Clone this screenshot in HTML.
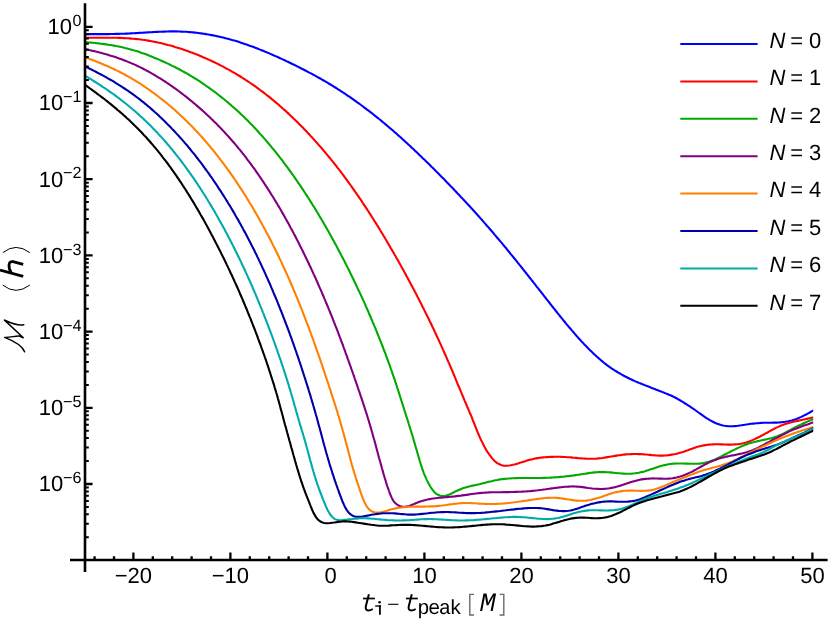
<!DOCTYPE html>
<html><head><meta charset="utf-8"><title>Mismatch vs start time</title>
<style>
html,body{margin:0;padding:0;background:#fff;}
svg{display:block;will-change:transform;}
text{font-family:"Liberation Sans",sans-serif;fill:#000;text-rendering:geometricPrecision;}
.tk{font-size:22px;}
.sp{font-size:16.2px;}
.lg{font-size:22px;}
.mono{font-family:"Liberation Mono",monospace;}
</style></head><body>
<svg width="830" height="620" viewBox="0 0 830 620">
<rect x="0" y="0" width="830" height="620" fill="#ffffff"/>
<defs><clipPath id="plotclip"><rect x="84" y="0" width="729.2" height="560"/></clipPath></defs>
<g fill="none" stroke-width="2.1" stroke-linejoin="round" stroke-linecap="butt" clip-path="url(#plotclip)">
<path stroke="#0000ff" d="M85.3 34.1 L87.0 34.1 L88.7 34.1 L90.4 34.1 L92.1 34.1 L93.7 34.1 L95.4 34.1 L97.1 34.1 L98.8 34.1 L100.5 34.1 L102.2 34.1 L103.9 34.1 L105.5 34.1 L107.2 34.1 L108.9 34.1 L110.6 34.0 L112.3 34.0 L114.0 34.0 L115.7 33.9 L117.4 33.9 L119.0 33.9 L120.7 33.8 L122.4 33.8 L124.1 33.7 L125.8 33.6 L127.5 33.6 L129.2 33.5 L130.8 33.4 L132.5 33.3 L134.2 33.2 L135.9 33.1 L137.6 33.0 L139.3 32.9 L141.0 32.8 L142.6 32.7 L144.3 32.6 L146.0 32.5 L147.7 32.4 L149.4 32.3 L151.1 32.2 L152.8 32.1 L154.4 32.0 L156.1 31.9 L157.8 31.9 L159.5 31.8 L161.2 31.7 L162.9 31.6 L164.6 31.6 L166.2 31.5 L167.9 31.5 L169.6 31.4 L171.3 31.4 L173.0 31.4 L174.7 31.4 L176.4 31.4 L178.0 31.5 L179.7 31.5 L181.4 31.6 L183.1 31.7 L184.8 31.7 L186.5 31.8 L188.1 32.0 L189.8 32.1 L191.5 32.2 L193.2 32.4 L194.9 32.6 L196.5 32.8 L198.2 33.0 L199.9 33.2 L201.5 33.4 L203.2 33.7 L204.9 33.9 L206.5 34.2 L208.2 34.5 L209.9 34.8 L211.5 35.1 L213.2 35.4 L214.8 35.7 L216.5 36.1 L218.1 36.4 L219.8 36.8 L221.4 37.2 L223.1 37.6 L224.7 38.0 L226.3 38.4 L228.0 38.8 L229.6 39.3 L231.2 39.7 L232.9 40.2 L234.5 40.6 L236.1 41.1 L237.7 41.6 L239.3 42.1 L240.9 42.7 L242.5 43.2 L244.1 43.7 L245.7 44.3 L247.3 44.8 L248.9 45.4 L250.5 46.0 L252.1 46.5 L253.7 47.1 L255.2 47.7 L256.8 48.3 L258.4 48.9 L260.0 49.6 L261.5 50.2 L263.1 50.8 L264.6 51.5 L266.2 52.1 L267.8 52.8 L269.3 53.4 L270.9 54.1 L272.4 54.8 L274.0 55.5 L275.5 56.1 L277.1 56.8 L278.6 57.5 L280.1 58.2 L281.7 58.9 L283.2 59.6 L284.7 60.3 L286.3 61.1 L287.8 61.8 L289.3 62.5 L290.8 63.2 L292.4 64.0 L293.9 64.7 L295.4 65.4 L296.9 66.2 L298.4 66.9 L299.9 67.7 L301.4 68.5 L302.9 69.2 L304.4 70.0 L305.9 70.8 L307.4 71.6 L308.9 72.4 L310.4 73.1 L311.9 73.9 L313.4 74.7 L314.9 75.6 L316.4 76.4 L317.8 77.2 L319.3 78.0 L320.8 78.8 L322.2 79.7 L323.7 80.5 L325.2 81.4 L326.6 82.2 L328.1 83.1 L329.5 84.0 L331.0 84.8 L332.4 85.7 L333.8 86.6 L335.3 87.5 L336.7 88.4 L338.1 89.3 L339.5 90.2 L340.9 91.1 L342.4 92.0 L343.8 93.0 L345.2 93.9 L346.6 94.8 L348.0 95.8 L349.4 96.7 L350.8 97.7 L352.1 98.6 L353.5 99.6 L354.9 100.6 L356.3 101.6 L357.6 102.6 L359.0 103.5 L360.4 104.5 L361.7 105.5 L363.1 106.5 L364.4 107.6 L365.8 108.6 L367.1 109.6 L368.5 110.6 L369.8 111.6 L371.1 112.7 L372.5 113.7 L373.8 114.8 L375.1 115.8 L376.4 116.9 L377.7 117.9 L379.1 119.0 L380.4 120.0 L381.7 121.1 L383.0 122.2 L384.3 123.3 L385.6 124.4 L386.9 125.4 L388.1 126.5 L389.4 127.6 L390.7 128.7 L392.0 129.8 L393.3 130.9 L394.5 132.0 L395.8 133.1 L397.1 134.3 L398.3 135.4 L399.6 136.5 L400.9 137.6 L402.1 138.8 L403.4 139.9 L404.6 141.0 L405.9 142.2 L407.1 143.3 L408.3 144.4 L409.6 145.6 L410.8 146.7 L412.0 147.9 L413.3 149.1 L414.5 150.2 L415.7 151.4 L417.0 152.5 L418.2 153.7 L419.4 154.9 L420.6 156.0 L421.8 157.2 L423.0 158.4 L424.3 159.6 L425.5 160.7 L426.7 161.9 L427.9 163.1 L429.1 164.3 L430.3 165.5 L431.5 166.7 L432.7 167.8 L433.9 169.0 L435.1 170.2 L436.3 171.4 L437.4 172.6 L438.6 173.8 L439.8 175.0 L441.0 176.2 L442.2 177.4 L443.4 178.6 L444.6 179.8 L445.7 181.0 L446.9 182.3 L448.1 183.5 L449.3 184.7 L450.4 185.9 L451.6 187.1 L452.8 188.3 L453.9 189.5 L455.1 190.8 L456.3 192.0 L457.4 193.2 L458.6 194.4 L459.8 195.7 L460.9 196.9 L462.1 198.1 L463.2 199.4 L464.4 200.6 L465.5 201.8 L466.7 203.1 L467.8 204.3 L469.0 205.5 L470.1 206.8 L471.2 208.0 L472.4 209.3 L473.5 210.5 L474.6 211.8 L475.8 213.0 L476.9 214.3 L478.0 215.5 L479.1 216.8 L480.3 218.1 L481.4 219.3 L482.5 220.6 L483.6 221.9 L484.7 223.1 L485.8 224.4 L486.9 225.7 L488.1 226.9 L489.2 228.2 L490.3 229.5 L491.4 230.8 L492.5 232.0 L493.6 233.3 L494.6 234.6 L495.7 235.9 L496.8 237.2 L497.9 238.5 L499.0 239.8 L500.1 241.1 L501.2 242.4 L502.3 243.6 L503.3 244.9 L504.4 246.2 L505.5 247.5 L506.6 248.8 L507.6 250.2 L508.7 251.5 L509.8 252.8 L510.8 254.1 L511.9 255.4 L513.0 256.7 L514.0 258.0 L515.1 259.3 L516.2 260.6 L517.2 261.9 L518.3 263.3 L519.3 264.6 L520.4 265.9 L521.4 267.2 L522.5 268.5 L523.5 269.9 L524.6 271.2 L525.6 272.5 L526.7 273.8 L527.7 275.1 L528.8 276.5 L529.8 277.8 L530.9 279.1 L531.9 280.5 L533.0 281.8 L534.0 283.1 L535.1 284.4 L536.1 285.8 L537.1 287.1 L538.2 288.4 L539.2 289.8 L540.3 291.1 L541.3 292.4 L542.3 293.7 L543.4 295.1 L544.4 296.4 L545.5 297.7 L546.5 299.1 L547.6 300.4 L548.6 301.7 L549.6 303.0 L550.7 304.4 L551.7 305.7 L552.8 307.0 L553.8 308.3 L554.9 309.7 L555.9 311.0 L557.0 312.3 L558.0 313.6 L559.1 314.9 L560.1 316.3 L561.2 317.6 L562.3 318.9 L563.3 320.2 L564.4 321.5 L565.5 322.8 L566.5 324.1 L567.6 325.4 L568.7 326.7 L569.8 328.0 L570.9 329.3 L572.0 330.6 L573.1 331.8 L574.2 333.1 L575.3 334.4 L576.4 335.7 L577.5 336.9 L578.6 338.2 L579.8 339.4 L580.9 340.7 L582.0 341.9 L583.2 343.1 L584.3 344.4 L585.5 345.6 L586.7 346.8 L587.9 348.0 L589.1 349.2 L590.3 350.4 L591.5 351.6 L592.7 352.7 L593.9 353.9 L595.1 355.0 L596.4 356.2 L597.6 357.3 L598.9 358.4 L600.2 359.6 L601.4 360.7 L602.7 361.7 L604.0 362.8 L605.4 363.9 L606.7 364.9 L608.0 365.9 L609.4 366.9 L610.8 367.9 L612.2 368.8 L613.6 369.7 L615.0 370.6 L616.5 371.5 L617.9 372.4 L619.4 373.2 L620.9 374.1 L622.3 374.9 L623.8 375.7 L625.3 376.5 L626.8 377.2 L628.3 378.0 L629.8 378.8 L631.4 379.5 L632.9 380.2 L634.4 380.9 L636.0 381.6 L637.5 382.2 L639.1 382.9 L640.6 383.5 L642.2 384.1 L643.8 384.8 L645.3 385.4 L646.9 386.0 L648.5 386.6 L650.1 387.2 L651.6 387.9 L653.2 388.5 L654.8 389.1 L656.3 389.7 L657.9 390.3 L659.5 390.9 L661.1 391.5 L662.6 392.1 L664.2 392.7 L665.8 393.4 L667.3 394.0 L668.9 394.7 L670.4 395.3 L672.0 396.0 L673.5 396.8 L675.0 397.5 L676.5 398.3 L678.0 399.1 L679.4 400.0 L680.9 400.8 L682.3 401.7 L683.8 402.6 L685.2 403.5 L686.7 404.4 L688.1 405.3 L689.5 406.2 L690.9 407.1 L692.3 408.1 L693.7 409.0 L695.1 410.0 L696.4 411.0 L697.8 412.0 L699.2 413.0 L700.5 413.9 L701.9 414.9 L703.3 415.9 L704.7 416.8 L706.1 417.8 L707.5 418.7 L709.0 419.6 L710.4 420.4 L711.9 421.3 L713.4 422.0 L714.9 422.8 L716.5 423.4 L718.1 424.0 L719.7 424.6 L721.3 425.1 L722.9 425.5 L724.6 425.8 L726.2 426.0 L727.9 426.2 L729.6 426.3 L731.3 426.3 L733.0 426.3 L734.6 426.1 L736.3 426.0 L738.0 425.8 L739.7 425.5 L741.4 425.3 L743.0 425.0 L744.7 424.8 L746.4 424.5 L748.1 424.3 L749.7 424.0 L751.4 423.8 L753.1 423.6 L754.8 423.5 L756.4 423.3 L758.1 423.2 L759.8 423.0 L761.5 422.9 L763.2 422.8 L764.9 422.8 L766.5 422.7 L768.2 422.7 L769.9 422.7 L771.6 422.7 L773.3 422.6 L775.0 422.6 L776.7 422.6 L778.4 422.5 L780.0 422.4 L781.7 422.2 L783.4 422.0 L785.1 421.8 L786.7 421.5 L788.4 421.2 L790.0 420.8 L791.7 420.4 L793.3 419.9 L794.9 419.4 L796.5 418.9 L798.1 418.3 L799.6 417.6 L801.2 416.9 L802.7 416.2 L804.2 415.4 L805.7 414.7 L807.2 413.9 L808.7 413.1 L810.2 412.3 L811.6 411.4 L813.1 410.6 L814.9 409.7"/>
<path stroke="#ff0000" d="M85.3 37.9 L87.1 37.9 L89.0 37.8 L90.8 37.8 L92.7 37.8 L94.5 37.8 L96.4 37.8 L98.2 37.7 L100.1 37.7 L101.9 37.7 L103.8 37.7 L105.6 37.7 L107.5 37.7 L109.3 37.7 L111.2 37.7 L113.0 37.8 L114.9 37.8 L116.7 37.8 L118.6 37.9 L120.4 37.9 L122.2 38.0 L124.1 38.1 L125.9 38.2 L127.8 38.3 L129.6 38.4 L131.4 38.6 L133.3 38.7 L135.1 38.9 L137.0 39.1 L138.8 39.3 L140.6 39.5 L142.4 39.8 L144.3 40.0 L146.1 40.3 L147.9 40.6 L149.7 40.9 L151.6 41.2 L153.4 41.6 L155.2 41.9 L157.0 42.3 L158.8 42.7 L160.6 43.1 L162.4 43.5 L164.2 43.9 L166.0 44.4 L167.8 44.9 L169.5 45.3 L171.3 45.8 L173.1 46.3 L174.9 46.9 L176.6 47.4 L178.4 47.9 L180.2 48.5 L181.9 49.1 L183.7 49.7 L185.4 50.3 L187.2 50.9 L188.9 51.5 L190.6 52.2 L192.4 52.8 L194.1 53.5 L195.8 54.1 L197.5 54.8 L199.2 55.5 L200.9 56.2 L202.6 57.0 L204.3 57.7 L206.0 58.4 L207.7 59.2 L209.4 59.9 L211.1 60.7 L212.7 61.5 L214.4 62.3 L216.1 63.1 L217.7 63.9 L219.4 64.8 L221.0 65.6 L222.7 66.4 L224.3 67.3 L225.9 68.2 L227.6 69.1 L229.2 69.9 L230.8 70.8 L232.4 71.8 L234.0 72.7 L235.6 73.6 L237.2 74.6 L238.7 75.5 L240.3 76.5 L241.9 77.5 L243.4 78.5 L245.0 79.5 L246.5 80.5 L248.1 81.5 L249.6 82.5 L251.1 83.5 L252.7 84.6 L254.2 85.7 L255.7 86.7 L257.2 87.8 L258.7 88.9 L260.1 90.0 L261.6 91.1 L263.1 92.2 L264.6 93.3 L266.0 94.5 L267.5 95.6 L268.9 96.7 L270.4 97.9 L271.8 99.1 L273.2 100.2 L274.6 101.4 L276.0 102.6 L277.5 103.8 L278.9 105.0 L280.2 106.2 L281.6 107.4 L283.0 108.7 L284.4 109.9 L285.8 111.1 L287.1 112.4 L288.5 113.6 L289.8 114.9 L291.2 116.2 L292.5 117.4 L293.8 118.7 L295.2 120.0 L296.5 121.3 L297.8 122.6 L299.1 123.9 L300.4 125.2 L301.7 126.5 L303.0 127.8 L304.3 129.2 L305.6 130.5 L306.8 131.8 L308.1 133.2 L309.4 134.5 L310.6 135.9 L311.9 137.2 L313.1 138.6 L314.3 140.0 L315.6 141.4 L316.8 142.7 L318.0 144.1 L319.2 145.5 L320.5 146.9 L321.7 148.3 L322.9 149.7 L324.1 151.1 L325.3 152.5 L326.4 153.9 L327.6 155.3 L328.8 156.8 L330.0 158.2 L331.1 159.6 L332.3 161.0 L333.4 162.5 L334.6 163.9 L335.7 165.4 L336.9 166.8 L338.0 168.3 L339.1 169.7 L340.3 171.2 L341.4 172.7 L342.5 174.1 L343.6 175.6 L344.7 177.1 L345.8 178.6 L346.9 180.1 L348.0 181.6 L349.1 183.1 L350.1 184.5 L351.2 186.0 L352.3 187.6 L353.3 189.1 L354.4 190.6 L355.4 192.1 L356.5 193.6 L357.5 195.1 L358.6 196.6 L359.6 198.2 L360.7 199.7 L361.7 201.2 L362.7 202.8 L363.7 204.3 L364.7 205.8 L365.8 207.4 L366.8 208.9 L367.8 210.5 L368.8 212.0 L369.8 213.6 L370.8 215.1 L371.8 216.7 L372.8 218.3 L373.7 219.8 L374.7 221.4 L375.7 222.9 L376.7 224.5 L377.7 226.1 L378.6 227.7 L379.6 229.2 L380.5 230.8 L381.5 232.4 L382.5 234.0 L383.4 235.6 L384.4 237.1 L385.3 238.7 L386.3 240.3 L387.2 241.9 L388.1 243.5 L389.1 245.1 L390.0 246.7 L390.9 248.3 L391.9 249.9 L392.8 251.5 L393.7 253.1 L394.6 254.7 L395.6 256.3 L396.5 257.9 L397.4 259.5 L398.3 261.1 L399.2 262.7 L400.1 264.3 L401.0 266.0 L401.9 267.6 L402.8 269.2 L403.7 270.8 L404.6 272.4 L405.5 274.0 L406.3 275.7 L407.2 277.3 L408.1 278.9 L409.0 280.5 L409.9 282.2 L410.7 283.8 L411.6 285.4 L412.5 287.1 L413.3 288.7 L414.2 290.3 L415.0 292.0 L415.9 293.6 L416.8 295.2 L417.6 296.9 L418.5 298.5 L419.3 300.2 L420.1 301.8 L421.0 303.5 L421.8 305.1 L422.6 306.8 L423.5 308.4 L424.3 310.1 L425.1 311.7 L425.9 313.4 L426.8 315.0 L427.6 316.7 L428.4 318.3 L429.2 320.0 L430.0 321.7 L430.8 323.3 L431.6 325.0 L432.4 326.7 L433.2 328.3 L434.0 330.0 L434.8 331.7 L435.6 333.3 L436.3 335.0 L437.1 336.7 L437.9 338.4 L438.7 340.0 L439.4 341.7 L440.2 343.4 L441.0 345.1 L441.7 346.7 L442.5 348.4 L443.2 350.1 L444.0 351.8 L444.7 353.5 L445.5 355.2 L446.2 356.9 L447.0 358.6 L447.7 360.3 L448.4 361.9 L449.2 363.6 L449.9 365.3 L450.6 367.0 L451.3 368.7 L452.1 370.4 L452.8 372.1 L453.5 373.8 L454.2 375.5 L454.9 377.2 L455.6 378.9 L456.3 380.6 L457.0 382.4 L457.7 384.1 L458.4 385.8 L459.2 387.5 L459.9 389.2 L460.6 390.9 L461.3 392.6 L462.0 394.3 L462.7 396.0 L463.4 397.7 L464.1 399.4 L464.8 401.1 L465.6 402.8 L466.3 404.5 L467.0 406.2 L467.8 407.9 L468.5 409.6 L469.2 411.3 L469.9 413.0 L470.7 414.7 L471.4 416.4 L472.1 418.1 L472.7 419.8 L473.4 421.5 L474.1 423.2 L474.8 425.0 L475.4 426.7 L476.1 428.4 L476.8 430.1 L477.5 431.8 L478.2 433.5 L478.9 435.2 L479.6 436.9 L480.4 438.6 L481.2 440.3 L482.0 441.9 L482.8 443.6 L483.7 445.2 L484.5 446.9 L485.4 448.5 L486.3 450.1 L487.3 451.6 L488.3 453.2 L489.4 454.7 L490.5 456.2 L491.6 457.7 L492.9 459.1 L494.1 460.5 L495.5 461.7 L496.9 462.9 L498.5 463.8 L500.1 464.6 L501.8 465.2 L503.6 465.6 L505.4 465.8 L507.2 465.7 L509.0 465.5 L510.9 465.2 L512.7 464.8 L514.5 464.4 L516.3 463.9 L518.1 463.4 L519.9 462.8 L521.7 462.3 L523.4 461.7 L525.2 461.2 L527.0 460.6 L528.8 460.1 L530.5 459.6 L532.3 459.2 L534.1 458.7 L535.9 458.4 L537.7 458.1 L539.6 457.8 L541.4 457.6 L543.2 457.4 L545.1 457.3 L546.9 457.1 L548.8 457.0 L550.6 456.9 L552.5 456.9 L554.3 456.8 L556.1 456.8 L558.0 456.8 L559.8 456.8 L561.7 456.9 L563.5 457.0 L565.4 457.0 L567.2 457.2 L569.1 457.3 L570.9 457.4 L572.7 457.6 L574.6 457.7 L576.4 457.9 L578.3 458.1 L580.1 458.2 L581.9 458.4 L583.8 458.5 L585.6 458.6 L587.5 458.7 L589.3 458.7 L591.2 458.8 L593.0 458.8 L594.9 458.7 L596.7 458.6 L598.5 458.4 L600.4 458.2 L602.2 458.0 L604.0 457.7 L605.9 457.4 L607.7 457.1 L609.5 456.8 L611.3 456.5 L613.1 456.2 L615.0 455.9 L616.8 455.6 L618.6 455.3 L620.4 455.1 L622.3 454.8 L624.1 454.6 L625.9 454.4 L627.8 454.3 L629.6 454.2 L631.5 454.1 L633.3 454.0 L635.2 454.0 L637.0 454.0 L638.9 454.1 L640.7 454.1 L642.5 454.2 L644.4 454.4 L646.2 454.5 L648.1 454.7 L649.9 454.9 L651.8 455.1 L653.6 455.2 L655.4 455.4 L657.3 455.5 L659.1 455.6 L661.0 455.6 L662.8 455.6 L664.7 455.5 L666.5 455.4 L668.3 455.2 L670.2 454.9 L672.0 454.6 L673.8 454.3 L675.6 454.0 L677.4 453.6 L679.2 453.1 L681.0 452.6 L682.7 452.1 L684.5 451.5 L686.2 450.8 L687.9 450.2 L689.7 449.5 L691.4 448.9 L693.2 448.3 L694.9 447.7 L696.7 447.1 L698.5 446.6 L700.2 446.2 L702.0 445.8 L703.9 445.4 L705.7 445.1 L707.5 444.8 L709.3 444.6 L711.2 444.5 L713.0 444.4 L714.9 444.3 L716.7 444.3 L718.6 444.3 L720.4 444.4 L722.3 444.4 L724.1 444.5 L726.0 444.5 L727.8 444.6 L729.7 444.6 L731.5 444.6 L733.4 444.5 L735.2 444.4 L737.0 444.3 L738.9 444.1 L740.7 443.8 L742.5 443.4 L744.3 443.0 L746.1 442.5 L747.8 441.9 L749.6 441.3 L751.3 440.6 L753.0 439.9 L754.7 439.1 L756.3 438.3 L758.0 437.5 L759.6 436.7 L761.3 435.8 L762.9 435.0 L764.5 434.1 L766.1 433.2 L767.8 432.3 L769.4 431.4 L771.0 430.5 L772.6 429.6 L774.3 428.7 L775.9 427.9 L777.6 427.1 L779.2 426.4 L780.9 425.6 L782.7 425.0 L784.4 424.3 L786.1 423.8 L787.9 423.2 L789.7 422.7 L791.5 422.3 L793.3 421.8 L795.1 421.4 L796.9 421.0 L798.7 420.6 L800.5 420.2 L802.3 419.8 L804.1 419.4 L805.9 419.0 L807.7 418.6 L809.5 418.2 L811.3 417.8 L813.1 417.4 L815.1 417.0"/>
<path stroke="#00aa00" d="M85.3 42.1 L87.2 42.3 L89.1 42.5 L91.1 42.6 L93.0 42.8 L94.9 43.0 L96.8 43.2 L98.7 43.4 L100.6 43.7 L102.5 43.9 L104.4 44.1 L106.3 44.4 L108.2 44.7 L110.1 45.0 L112.0 45.3 L113.9 45.6 L115.8 46.0 L117.7 46.3 L119.6 46.7 L121.4 47.1 L123.3 47.5 L125.2 48.0 L127.0 48.4 L128.9 48.9 L130.7 49.4 L132.6 49.9 L134.4 50.5 L136.3 51.0 L138.1 51.6 L139.9 52.2 L141.7 52.9 L143.5 53.5 L145.3 54.1 L147.1 54.8 L148.9 55.5 L150.7 56.2 L152.5 56.9 L154.3 57.7 L156.1 58.4 L157.8 59.1 L159.6 59.9 L161.4 60.7 L163.1 61.5 L164.9 62.3 L166.6 63.1 L168.4 63.9 L170.1 64.7 L171.8 65.6 L173.5 66.4 L175.3 67.3 L177.0 68.2 L178.7 69.0 L180.4 70.0 L182.1 70.9 L183.7 71.8 L185.4 72.7 L187.1 73.7 L188.8 74.7 L190.4 75.6 L192.1 76.6 L193.7 77.6 L195.3 78.6 L197.0 79.7 L198.6 80.7 L200.2 81.7 L201.8 82.8 L203.4 83.9 L205.0 85.0 L206.5 86.1 L208.1 87.2 L209.7 88.3 L211.2 89.4 L212.8 90.5 L214.3 91.7 L215.9 92.8 L217.4 94.0 L218.9 95.2 L220.4 96.4 L221.9 97.6 L223.4 98.8 L224.9 100.0 L226.4 101.2 L227.9 102.4 L229.3 103.7 L230.8 104.9 L232.2 106.2 L233.7 107.5 L235.1 108.7 L236.5 110.0 L237.9 111.3 L239.3 112.6 L240.7 113.9 L242.1 115.3 L243.5 116.6 L244.9 117.9 L246.3 119.3 L247.6 120.6 L249.0 122.0 L250.3 123.4 L251.7 124.7 L253.0 126.1 L254.3 127.5 L255.6 128.9 L256.9 130.3 L258.2 131.7 L259.5 133.2 L260.8 134.6 L262.1 136.0 L263.3 137.4 L264.6 138.9 L265.9 140.3 L267.1 141.8 L268.4 143.3 L269.6 144.7 L270.8 146.2 L272.0 147.7 L273.3 149.2 L274.5 150.7 L275.7 152.2 L276.9 153.7 L278.1 155.2 L279.2 156.7 L280.4 158.2 L281.6 159.7 L282.8 161.2 L283.9 162.8 L285.1 164.3 L286.2 165.8 L287.4 167.4 L288.5 168.9 L289.6 170.5 L290.8 172.0 L291.9 173.6 L293.0 175.2 L294.1 176.7 L295.2 178.3 L296.3 179.9 L297.4 181.5 L298.5 183.1 L299.6 184.7 L300.6 186.2 L301.7 187.8 L302.8 189.4 L303.8 191.0 L304.9 192.7 L305.9 194.3 L307.0 195.9 L308.0 197.5 L309.1 199.1 L310.1 200.7 L311.1 202.4 L312.1 204.0 L313.1 205.6 L314.2 207.3 L315.2 208.9 L316.2 210.5 L317.2 212.2 L318.2 213.8 L319.1 215.5 L320.1 217.1 L321.1 218.8 L322.1 220.5 L323.1 222.1 L324.0 223.8 L325.0 225.5 L325.9 227.1 L326.9 228.8 L327.9 230.5 L328.8 232.1 L329.7 233.8 L330.7 235.5 L331.6 237.2 L332.5 238.9 L333.5 240.6 L334.4 242.3 L335.3 243.9 L336.2 245.6 L337.1 247.3 L338.0 249.0 L338.9 250.7 L339.8 252.4 L340.7 254.1 L341.6 255.9 L342.5 257.6 L343.4 259.3 L344.3 261.0 L345.2 262.7 L346.0 264.4 L346.9 266.1 L347.8 267.9 L348.6 269.6 L349.5 271.3 L350.3 273.0 L351.2 274.8 L352.0 276.5 L352.9 278.2 L353.7 280.0 L354.5 281.7 L355.4 283.4 L356.2 285.2 L357.0 286.9 L357.8 288.7 L358.7 290.4 L359.5 292.1 L360.3 293.9 L361.1 295.6 L361.9 297.4 L362.7 299.1 L363.5 300.9 L364.3 302.6 L365.1 304.4 L365.8 306.2 L366.6 307.9 L367.4 309.7 L368.2 311.4 L368.9 313.2 L369.7 315.0 L370.5 316.7 L371.2 318.5 L372.0 320.3 L372.7 322.1 L373.5 323.8 L374.2 325.6 L375.0 327.4 L375.7 329.2 L376.4 330.9 L377.1 332.7 L377.9 334.5 L378.6 336.3 L379.3 338.1 L380.0 339.9 L380.7 341.6 L381.4 343.4 L382.1 345.2 L382.8 347.0 L383.5 348.8 L384.2 350.6 L384.9 352.4 L385.6 354.2 L386.2 356.0 L386.9 357.8 L387.6 359.6 L388.2 361.4 L388.9 363.2 L389.5 365.0 L390.2 366.8 L390.8 368.6 L391.5 370.5 L392.1 372.3 L392.7 374.1 L393.3 375.9 L394.0 377.7 L394.6 379.5 L395.2 381.4 L395.8 383.2 L396.4 385.0 L397.0 386.8 L397.6 388.7 L398.2 390.5 L398.8 392.3 L399.3 394.2 L399.9 396.0 L400.5 397.8 L401.1 399.7 L401.7 401.5 L402.3 403.3 L402.8 405.2 L403.4 407.0 L404.0 408.8 L404.6 410.7 L405.2 412.5 L405.7 414.3 L406.3 416.1 L406.9 418.0 L407.5 419.8 L408.1 421.6 L408.6 423.5 L409.2 425.3 L409.8 427.1 L410.4 429.0 L410.9 430.8 L411.5 432.7 L412.1 434.5 L412.6 436.3 L413.2 438.2 L413.7 440.0 L414.2 441.9 L414.8 443.7 L415.3 445.6 L415.8 447.4 L416.4 449.2 L416.9 451.1 L417.4 452.9 L418.0 454.8 L418.5 456.6 L419.1 458.5 L419.6 460.3 L420.2 462.2 L420.7 464.0 L421.3 465.8 L421.9 467.7 L422.5 469.5 L423.2 471.3 L423.8 473.1 L424.5 474.9 L425.3 476.6 L426.1 478.4 L426.9 480.1 L427.8 481.9 L428.7 483.6 L429.6 485.3 L430.6 487.0 L431.7 488.6 L432.8 490.2 L434.0 491.7 L435.4 493.1 L436.9 494.2 L438.5 495.1 L440.2 495.7 L442.0 496.0 L443.9 496.0 L445.7 495.7 L447.6 495.1 L449.4 494.5 L451.1 493.7 L452.9 492.8 L454.6 491.9 L456.4 491.0 L458.2 490.2 L459.9 489.5 L461.7 488.8 L463.6 488.1 L465.4 487.5 L467.2 487.0 L469.1 486.5 L470.9 486.0 L472.8 485.6 L474.7 485.2 L476.6 484.8 L478.4 484.4 L480.3 484.0 L482.2 483.5 L484.0 483.0 L485.9 482.6 L487.8 482.1 L489.6 481.6 L491.5 481.2 L493.4 480.7 L495.3 480.3 L497.2 480.0 L499.0 479.6 L500.9 479.3 L502.8 479.1 L504.8 478.9 L506.7 478.7 L508.6 478.5 L510.5 478.4 L512.4 478.2 L514.3 478.2 L516.3 478.1 L518.2 478.0 L520.1 478.0 L522.0 478.0 L524.0 478.0 L525.9 478.0 L527.8 478.0 L529.7 478.0 L531.6 478.0 L533.6 478.0 L535.5 478.0 L537.4 478.0 L539.3 478.0 L541.3 478.0 L543.2 477.9 L545.1 477.9 L547.0 477.8 L548.9 477.7 L550.9 477.6 L552.8 477.5 L554.7 477.4 L556.6 477.3 L558.5 477.1 L560.4 476.9 L562.4 476.8 L564.3 476.6 L566.2 476.3 L568.1 476.1 L570.0 475.9 L571.9 475.6 L573.8 475.4 L575.7 475.1 L577.6 474.8 L579.5 474.6 L581.4 474.3 L583.3 474.0 L585.2 473.7 L587.1 473.4 L589.0 473.1 L590.9 472.8 L592.8 472.6 L594.7 472.4 L596.7 472.2 L598.6 472.1 L600.5 472.1 L602.4 472.0 L604.3 472.1 L606.2 472.2 L608.2 472.3 L610.1 472.4 L612.0 472.6 L613.9 472.8 L615.8 473.0 L617.7 473.2 L619.7 473.3 L621.6 473.5 L623.5 473.6 L625.4 473.7 L627.3 473.8 L629.3 473.7 L631.2 473.7 L633.1 473.5 L635.0 473.3 L636.9 473.0 L638.8 472.7 L640.7 472.3 L642.6 471.9 L644.4 471.4 L646.2 470.8 L648.1 470.2 L649.9 469.6 L651.7 469.0 L653.6 468.4 L655.4 467.8 L657.2 467.2 L659.1 466.6 L660.9 466.1 L662.8 465.6 L664.6 465.1 L666.5 464.7 L668.4 464.3 L670.3 464.0 L672.2 463.8 L674.1 463.6 L676.0 463.5 L677.9 463.5 L679.9 463.5 L681.8 463.5 L683.7 463.5 L685.6 463.6 L687.5 463.6 L689.5 463.7 L691.4 463.7 L693.3 463.7 L695.2 463.7 L697.2 463.7 L699.1 463.6 L701.0 463.4 L702.9 463.1 L704.8 462.7 L706.6 462.3 L708.5 461.8 L710.3 461.2 L712.1 460.6 L713.9 459.9 L715.7 459.1 L717.4 458.3 L719.2 457.5 L720.9 456.6 L722.6 455.7 L724.3 454.8 L726.0 454.0 L727.7 453.1 L729.5 452.2 L731.2 451.3 L732.9 450.4 L734.6 449.6 L736.3 448.7 L738.1 447.9 L739.8 447.1 L741.6 446.3 L743.3 445.6 L745.1 444.9 L746.9 444.2 L748.7 443.6 L750.6 443.0 L752.4 442.5 L754.3 442.0 L756.2 441.6 L758.0 441.1 L759.9 440.7 L761.8 440.3 L763.7 439.9 L765.6 439.5 L767.4 439.1 L769.3 438.6 L771.2 438.2 L773.0 437.7 L774.9 437.1 L776.7 436.5 L778.5 435.8 L780.3 435.1 L782.0 434.3 L783.7 433.5 L785.4 432.6 L787.1 431.7 L788.8 430.8 L790.5 429.9 L792.2 428.9 L793.9 428.0 L795.6 427.1 L797.3 426.3 L799.0 425.4 L800.8 424.6 L802.5 423.8 L804.3 423.0 L806.0 422.2 L807.8 421.4 L809.5 420.7 L811.3 419.9 L813.1 419.2 L814.9 418.4"/>
<path stroke="#800080" d="M85.3 49.1 L87.2 49.5 L89.1 50.0 L91.0 50.4 L92.9 50.9 L94.8 51.3 L96.7 51.8 L98.6 52.3 L100.5 52.8 L102.3 53.3 L104.2 53.8 L106.1 54.3 L108.0 54.8 L109.8 55.4 L111.7 55.9 L113.5 56.5 L115.4 57.1 L117.2 57.8 L119.0 58.4 L120.9 59.1 L122.7 59.7 L124.5 60.4 L126.3 61.1 L128.1 61.9 L129.9 62.6 L131.7 63.4 L133.5 64.1 L135.3 64.9 L137.0 65.8 L138.8 66.6 L140.5 67.4 L142.3 68.3 L144.0 69.2 L145.7 70.1 L147.4 71.0 L149.1 71.9 L150.8 72.9 L152.5 73.9 L154.2 74.8 L155.9 75.8 L157.5 76.8 L159.2 77.8 L160.9 78.9 L162.5 79.9 L164.1 81.0 L165.8 82.0 L167.4 83.1 L169.0 84.2 L170.6 85.3 L172.2 86.4 L173.8 87.6 L175.4 88.7 L177.0 89.8 L178.5 91.0 L180.1 92.2 L181.6 93.3 L183.2 94.5 L184.7 95.7 L186.3 96.9 L187.8 98.1 L189.3 99.4 L190.8 100.6 L192.3 101.8 L193.8 103.1 L195.3 104.3 L196.8 105.6 L198.3 106.9 L199.7 108.1 L201.2 109.4 L202.7 110.7 L204.1 112.0 L205.5 113.3 L207.0 114.7 L208.4 116.0 L209.8 117.3 L211.2 118.7 L212.6 120.0 L214.0 121.4 L215.4 122.7 L216.8 124.1 L218.1 125.5 L219.5 126.9 L220.8 128.3 L222.2 129.7 L223.5 131.1 L224.8 132.5 L226.1 134.0 L227.4 135.4 L228.7 136.8 L230.0 138.3 L231.3 139.7 L232.6 141.2 L233.9 142.7 L235.1 144.1 L236.4 145.6 L237.6 147.1 L238.8 148.6 L240.1 150.1 L241.3 151.6 L242.5 153.2 L243.7 154.7 L244.9 156.2 L246.1 157.7 L247.2 159.3 L248.4 160.8 L249.6 162.4 L250.7 163.9 L251.9 165.5 L253.0 167.1 L254.2 168.7 L255.3 170.2 L256.4 171.8 L257.5 173.4 L258.6 175.0 L259.7 176.6 L260.8 178.2 L261.9 179.8 L263.0 181.4 L264.1 183.1 L265.1 184.7 L266.2 186.3 L267.3 187.9 L268.3 189.6 L269.4 191.2 L270.4 192.9 L271.4 194.5 L272.5 196.2 L273.5 197.8 L274.5 199.5 L275.5 201.1 L276.5 202.8 L277.5 204.5 L278.5 206.1 L279.5 207.8 L280.5 209.5 L281.5 211.2 L282.4 212.9 L283.4 214.6 L284.4 216.3 L285.3 218.0 L286.3 219.7 L287.2 221.4 L288.2 223.1 L289.1 224.8 L290.0 226.5 L290.9 228.2 L291.9 229.9 L292.8 231.6 L293.7 233.4 L294.6 235.1 L295.5 236.8 L296.4 238.5 L297.3 240.3 L298.2 242.0 L299.1 243.7 L299.9 245.5 L300.8 247.2 L301.7 249.0 L302.6 250.7 L303.4 252.5 L304.3 254.2 L305.1 256.0 L306.0 257.7 L306.8 259.5 L307.7 261.2 L308.5 263.0 L309.3 264.8 L310.2 266.5 L311.0 268.3 L311.8 270.1 L312.6 271.8 L313.4 273.6 L314.3 275.4 L315.1 277.2 L315.9 278.9 L316.7 280.7 L317.5 282.5 L318.2 284.3 L319.0 286.1 L319.8 287.9 L320.6 289.6 L321.4 291.4 L322.1 293.2 L322.9 295.0 L323.7 296.8 L324.4 298.6 L325.2 300.4 L325.9 302.2 L326.7 304.0 L327.4 305.8 L328.2 307.6 L328.9 309.4 L329.7 311.2 L330.4 313.0 L331.1 314.8 L331.9 316.6 L332.6 318.4 L333.3 320.3 L334.0 322.1 L334.7 323.9 L335.4 325.7 L336.2 327.5 L336.9 329.3 L337.6 331.1 L338.3 333.0 L339.0 334.8 L339.6 336.6 L340.3 338.4 L341.0 340.3 L341.7 342.1 L342.4 343.9 L343.1 345.7 L343.7 347.6 L344.4 349.4 L345.1 351.2 L345.7 353.1 L346.4 354.9 L347.1 356.7 L347.7 358.6 L348.4 360.4 L349.0 362.2 L349.7 364.1 L350.3 365.9 L351.0 367.7 L351.6 369.6 L352.3 371.4 L352.9 373.3 L353.6 375.1 L354.2 376.9 L354.8 378.8 L355.5 380.6 L356.1 382.5 L356.8 384.3 L357.4 386.1 L358.0 388.0 L358.6 389.8 L359.3 391.7 L359.9 393.5 L360.5 395.4 L361.1 397.2 L361.8 399.1 L362.4 400.9 L363.0 402.8 L363.6 404.6 L364.2 406.5 L364.8 408.3 L365.4 410.2 L366.0 412.0 L366.6 413.9 L367.2 415.7 L367.7 417.6 L368.3 419.4 L368.9 421.3 L369.4 423.2 L370.0 425.0 L370.5 426.9 L371.1 428.8 L371.6 430.6 L372.2 432.5 L372.7 434.4 L373.2 436.3 L373.7 438.1 L374.3 440.0 L374.8 441.9 L375.3 443.8 L375.8 445.6 L376.3 447.5 L376.8 449.4 L377.3 451.3 L377.8 453.2 L378.3 455.0 L378.8 456.9 L379.3 458.8 L379.9 460.7 L380.4 462.6 L380.9 464.4 L381.4 466.3 L381.9 468.2 L382.5 470.1 L383.0 471.9 L383.5 473.8 L384.1 475.7 L384.6 477.5 L385.2 479.4 L385.8 481.3 L386.3 483.1 L386.9 485.0 L387.5 486.8 L388.2 488.7 L388.8 490.5 L389.5 492.4 L390.2 494.3 L391.0 496.1 L391.8 497.9 L392.7 499.7 L393.8 501.3 L395.0 502.8 L396.4 504.1 L398.0 505.2 L399.7 506.0 L401.5 506.5 L403.3 506.7 L405.2 506.7 L407.2 506.4 L409.1 505.9 L410.9 505.3 L412.8 504.6 L414.6 503.8 L416.4 503.0 L418.3 502.3 L420.1 501.6 L422.0 501.0 L423.8 500.5 L425.7 500.0 L427.6 499.5 L429.5 499.1 L431.4 498.8 L433.3 498.5 L435.2 498.2 L437.2 498.0 L439.1 497.8 L441.1 497.6 L443.0 497.5 L444.9 497.3 L446.9 497.1 L448.8 496.9 L450.8 496.8 L452.7 496.6 L454.6 496.4 L456.6 496.1 L458.5 495.9 L460.4 495.7 L462.4 495.4 L464.3 495.1 L466.2 494.9 L468.2 494.6 L470.1 494.3 L472.0 494.0 L473.9 493.7 L475.9 493.5 L477.8 493.3 L479.7 493.1 L481.7 492.9 L483.6 492.7 L485.6 492.6 L487.5 492.5 L489.4 492.4 L491.4 492.3 L493.3 492.3 L495.3 492.2 L497.2 492.2 L499.2 492.2 L501.1 492.2 L503.1 492.1 L505.0 492.1 L507.0 492.1 L508.9 492.1 L510.9 492.0 L512.8 492.0 L514.8 491.9 L516.7 491.9 L518.6 491.8 L520.6 491.7 L522.5 491.6 L524.5 491.5 L526.4 491.4 L528.4 491.2 L530.3 491.1 L532.2 490.9 L534.2 490.7 L536.1 490.5 L538.1 490.3 L540.0 490.0 L541.9 489.8 L543.8 489.5 L545.8 489.3 L547.7 489.0 L549.6 488.7 L551.6 488.4 L553.5 488.2 L555.4 487.9 L557.4 487.7 L559.3 487.4 L561.2 487.2 L563.2 487.0 L565.1 486.8 L567.0 486.7 L569.0 486.6 L570.9 486.5 L572.9 486.4 L574.8 486.5 L576.8 486.6 L578.7 486.7 L580.6 486.9 L582.6 487.1 L584.5 487.4 L586.4 487.7 L588.4 488.0 L590.3 488.2 L592.2 488.5 L594.2 488.7 L596.1 488.8 L598.0 488.9 L600.0 489.0 L601.9 489.0 L603.9 488.9 L605.8 488.8 L607.8 488.5 L609.7 488.3 L611.6 487.9 L613.5 487.5 L615.4 487.1 L617.3 486.6 L619.2 486.0 L621.0 485.4 L622.9 484.8 L624.7 484.2 L626.5 483.6 L628.4 482.9 L630.3 482.3 L632.1 481.7 L634.0 481.2 L635.9 480.7 L637.8 480.2 L639.7 479.8 L641.6 479.4 L643.5 479.1 L645.4 478.9 L647.4 478.7 L649.3 478.6 L651.2 478.5 L653.2 478.4 L655.1 478.5 L657.1 478.5 L659.0 478.6 L661.0 478.6 L662.9 478.7 L664.9 478.7 L666.8 478.7 L668.8 478.6 L670.7 478.5 L672.7 478.3 L674.6 477.9 L676.5 477.5 L678.3 477.0 L680.2 476.5 L682.1 475.9 L683.9 475.2 L685.7 474.5 L687.5 473.7 L689.3 472.9 L691.0 472.1 L692.8 471.2 L694.5 470.3 L696.2 469.4 L697.9 468.4 L699.6 467.5 L701.3 466.5 L703.0 465.6 L704.7 464.6 L706.5 463.8 L708.2 462.9 L710.0 462.1 L711.8 461.3 L713.6 460.6 L715.4 459.9 L717.2 459.2 L719.1 458.6 L720.9 458.1 L722.8 457.5 L724.7 457.1 L726.6 456.6 L728.5 456.2 L730.4 455.8 L732.3 455.4 L734.2 455.1 L736.1 454.7 L738.1 454.3 L740.0 453.9 L741.9 453.5 L743.8 453.0 L745.6 452.5 L747.5 451.9 L749.4 451.3 L751.2 450.7 L753.0 450.0 L754.8 449.2 L756.6 448.4 L758.3 447.6 L760.0 446.7 L761.8 445.8 L763.5 444.9 L765.2 443.9 L766.9 443.0 L768.6 442.1 L770.4 441.2 L772.1 440.3 L773.8 439.4 L775.5 438.5 L777.3 437.6 L779.0 436.7 L780.7 435.8 L782.4 434.9 L784.2 434.0 L785.9 433.1 L787.7 432.3 L789.4 431.4 L791.2 430.6 L793.0 429.8 L794.8 429.1 L796.6 428.4 L798.4 427.7 L800.2 427.0 L802.1 426.3 L803.9 425.6 L805.7 425.0 L807.6 424.4 L809.4 423.7 L811.3 423.1 L813.1 422.5 L815.0 421.9"/>
<path stroke="#ff8000" d="M85.3 57.3 L87.1 58.0 L89.0 58.7 L90.8 59.4 L92.6 60.1 L94.4 60.8 L96.2 61.5 L98.1 62.3 L99.9 63.0 L101.7 63.7 L103.5 64.5 L105.3 65.2 L107.1 66.0 L108.9 66.8 L110.6 67.6 L112.4 68.4 L114.2 69.2 L115.9 70.1 L117.7 70.9 L119.4 71.8 L121.2 72.7 L122.9 73.6 L124.6 74.5 L126.3 75.5 L128.0 76.4 L129.7 77.4 L131.4 78.3 L133.1 79.3 L134.8 80.3 L136.4 81.3 L138.1 82.4 L139.8 83.4 L141.4 84.5 L143.0 85.6 L144.6 86.7 L146.3 87.8 L147.9 88.9 L149.5 90.0 L151.0 91.1 L152.6 92.3 L154.2 93.4 L155.8 94.6 L157.3 95.8 L158.9 97.0 L160.4 98.2 L161.9 99.4 L163.5 100.6 L165.0 101.8 L166.5 103.0 L168.0 104.3 L169.5 105.5 L171.0 106.8 L172.5 108.1 L174.0 109.3 L175.4 110.6 L176.9 111.9 L178.3 113.2 L179.8 114.6 L181.2 115.9 L182.6 117.2 L184.0 118.6 L185.4 119.9 L186.8 121.3 L188.2 122.7 L189.6 124.1 L191.0 125.4 L192.3 126.8 L193.7 128.2 L195.0 129.7 L196.3 131.1 L197.7 132.5 L199.0 133.9 L200.3 135.4 L201.6 136.8 L202.9 138.3 L204.2 139.8 L205.5 141.2 L206.8 142.7 L208.0 144.2 L209.3 145.7 L210.5 147.2 L211.8 148.7 L213.0 150.2 L214.2 151.7 L215.4 153.2 L216.7 154.8 L217.9 156.3 L219.1 157.8 L220.2 159.4 L221.4 160.9 L222.6 162.5 L223.8 164.0 L224.9 165.6 L226.1 167.2 L227.2 168.8 L228.4 170.4 L229.5 171.9 L230.6 173.5 L231.8 175.1 L232.9 176.7 L234.0 178.3 L235.1 180.0 L236.2 181.6 L237.3 183.2 L238.3 184.8 L239.4 186.4 L240.5 188.1 L241.6 189.7 L242.6 191.4 L243.7 193.0 L244.7 194.7 L245.8 196.3 L246.8 198.0 L247.8 199.6 L248.8 201.3 L249.8 203.0 L250.9 204.6 L251.9 206.3 L252.9 208.0 L253.9 209.7 L254.8 211.4 L255.8 213.1 L256.8 214.7 L257.8 216.4 L258.7 218.1 L259.7 219.9 L260.6 221.6 L261.6 223.3 L262.5 225.0 L263.5 226.7 L264.4 228.4 L265.3 230.1 L266.2 231.9 L267.1 233.6 L268.1 235.3 L269.0 237.1 L269.9 238.8 L270.8 240.5 L271.6 242.3 L272.5 244.0 L273.4 245.8 L274.3 247.5 L275.1 249.3 L276.0 251.0 L276.9 252.8 L277.7 254.6 L278.6 256.3 L279.4 258.1 L280.3 259.9 L281.1 261.6 L281.9 263.4 L282.7 265.2 L283.6 266.9 L284.4 268.7 L285.2 270.5 L286.0 272.3 L286.8 274.1 L287.6 275.9 L288.4 277.6 L289.2 279.4 L290.0 281.2 L290.8 283.0 L291.5 284.8 L292.3 286.6 L293.1 288.4 L293.8 290.2 L294.6 292.0 L295.4 293.8 L296.1 295.6 L296.9 297.4 L297.6 299.2 L298.3 301.1 L299.1 302.9 L299.8 304.7 L300.5 306.5 L301.3 308.3 L302.0 310.1 L302.7 312.0 L303.4 313.8 L304.1 315.6 L304.8 317.4 L305.5 319.3 L306.2 321.1 L306.9 322.9 L307.6 324.7 L308.3 326.6 L309.0 328.4 L309.7 330.2 L310.4 332.1 L311.0 333.9 L311.7 335.8 L312.4 337.6 L313.1 339.4 L313.7 341.3 L314.4 343.1 L315.0 345.0 L315.7 346.8 L316.3 348.6 L317.0 350.5 L317.6 352.3 L318.3 354.2 L318.9 356.0 L319.6 357.9 L320.2 359.7 L320.8 361.6 L321.5 363.4 L322.1 365.3 L322.7 367.1 L323.3 369.0 L324.0 370.8 L324.6 372.7 L325.2 374.6 L325.8 376.4 L326.4 378.3 L327.1 380.1 L327.7 382.0 L328.3 383.8 L328.9 385.7 L329.5 387.6 L330.1 389.4 L330.7 391.3 L331.3 393.1 L331.9 395.0 L332.5 396.9 L333.1 398.7 L333.7 400.6 L334.3 402.4 L334.9 404.3 L335.5 406.2 L336.1 408.0 L336.7 409.9 L337.3 411.8 L337.8 413.6 L338.4 415.5 L339.0 417.4 L339.5 419.2 L340.1 421.1 L340.6 423.0 L341.1 424.9 L341.7 426.8 L342.2 428.6 L342.7 430.5 L343.3 432.4 L343.8 434.3 L344.3 436.2 L344.8 438.1 L345.3 440.0 L345.8 441.8 L346.3 443.7 L346.8 445.6 L347.3 447.5 L347.8 449.4 L348.3 451.3 L348.8 453.2 L349.3 455.1 L349.8 457.0 L350.3 458.9 L350.8 460.7 L351.3 462.6 L351.8 464.5 L352.4 466.4 L352.9 468.3 L353.5 470.1 L354.0 472.0 L354.6 473.9 L355.2 475.8 L355.7 477.6 L356.3 479.5 L357.0 481.3 L357.6 483.2 L358.2 485.0 L358.8 486.9 L359.5 488.7 L360.1 490.6 L360.7 492.4 L361.4 494.3 L362.0 496.2 L362.7 498.0 L363.5 499.9 L364.2 501.7 L365.1 503.5 L366.0 505.2 L367.1 506.9 L368.3 508.4 L369.6 509.8 L371.1 510.9 L372.8 511.8 L374.6 512.3 L376.5 512.6 L378.4 512.6 L380.3 512.4 L382.2 512.0 L384.1 511.5 L386.0 511.0 L387.9 510.4 L389.8 509.8 L391.7 509.3 L393.7 508.8 L395.6 508.4 L397.5 508.0 L399.4 507.7 L401.4 507.5 L403.3 507.3 L405.3 507.1 L407.2 507.0 L409.2 506.8 L411.1 506.7 L413.1 506.7 L415.0 506.6 L417.0 506.6 L418.9 506.6 L420.9 506.6 L422.8 506.6 L424.8 506.6 L426.8 506.5 L428.7 506.5 L430.7 506.4 L432.6 506.4 L434.6 506.3 L436.5 506.1 L438.4 505.9 L440.4 505.7 L442.3 505.5 L444.3 505.2 L446.2 505.0 L448.1 504.7 L450.1 504.4 L452.0 504.2 L454.0 503.9 L455.9 503.7 L457.9 503.5 L459.8 503.3 L461.8 503.1 L463.7 503.0 L465.7 503.0 L467.6 503.0 L469.6 503.0 L471.5 503.1 L473.5 503.2 L475.4 503.3 L477.4 503.5 L479.3 503.6 L481.3 503.7 L483.2 503.8 L485.2 503.9 L487.1 504.0 L489.1 504.0 L491.0 504.0 L493.0 504.0 L494.9 504.0 L496.9 503.9 L498.8 503.8 L500.8 503.7 L502.7 503.5 L504.7 503.4 L506.6 503.2 L508.6 503.0 L510.5 502.8 L512.5 502.5 L514.4 502.3 L516.3 502.0 L518.3 501.8 L520.2 501.5 L522.2 501.2 L524.1 500.9 L526.0 500.7 L528.0 500.4 L529.9 500.1 L531.8 499.8 L533.8 499.5 L535.7 499.2 L537.6 498.9 L539.6 498.7 L541.5 498.4 L543.4 498.2 L545.4 498.0 L547.3 497.9 L549.3 497.8 L551.2 497.7 L553.2 497.8 L555.1 497.8 L557.1 497.9 L559.0 498.1 L561.0 498.3 L562.9 498.6 L564.9 498.9 L566.8 499.2 L568.7 499.5 L570.7 499.8 L572.6 500.1 L574.6 500.4 L576.5 500.6 L578.4 500.8 L580.4 500.8 L582.3 500.8 L584.3 500.7 L586.2 500.6 L588.2 500.3 L590.1 500.0 L592.0 499.6 L593.9 499.1 L595.8 498.6 L597.7 498.1 L599.5 497.5 L601.4 496.9 L603.3 496.2 L605.1 495.6 L607.0 494.9 L608.8 494.3 L610.7 493.7 L612.5 493.1 L614.4 492.6 L616.3 492.1 L618.2 491.7 L620.1 491.4 L622.1 491.1 L624.0 490.8 L626.0 490.7 L627.9 490.6 L629.9 490.5 L631.8 490.6 L633.8 490.6 L635.7 490.7 L637.7 490.8 L639.6 490.8 L641.6 490.9 L643.6 490.8 L645.5 490.7 L647.5 490.6 L649.4 490.4 L651.3 490.1 L653.2 489.7 L655.1 489.2 L657.0 488.6 L658.9 488.0 L660.7 487.3 L662.5 486.6 L664.3 485.9 L666.1 485.1 L667.9 484.3 L669.7 483.6 L671.5 482.8 L673.3 482.0 L675.1 481.3 L676.9 480.5 L678.7 479.7 L680.5 479.0 L682.3 478.2 L684.1 477.5 L685.9 476.7 L687.8 476.0 L689.6 475.3 L691.4 474.6 L693.2 473.9 L695.0 473.2 L696.9 472.5 L698.7 471.8 L700.6 471.2 L702.4 470.6 L704.3 470.0 L706.2 469.4 L708.0 468.9 L709.9 468.4 L711.8 467.9 L713.7 467.4 L715.6 466.9 L717.5 466.4 L719.4 465.9 L721.3 465.4 L723.1 464.8 L725.0 464.2 L726.8 463.6 L728.7 462.9 L730.5 462.2 L732.3 461.5 L734.1 460.7 L735.9 459.9 L737.6 459.0 L739.4 458.2 L741.1 457.3 L742.9 456.4 L744.6 455.5 L746.4 454.6 L748.1 453.7 L749.8 452.8 L751.6 451.9 L753.3 451.1 L755.1 450.2 L756.8 449.3 L758.6 448.5 L760.4 447.7 L762.1 446.8 L763.9 446.0 L765.7 445.2 L767.4 444.4 L769.2 443.5 L771.0 442.7 L772.8 441.9 L774.6 441.1 L776.3 440.3 L778.1 439.5 L779.9 438.8 L781.7 438.0 L783.5 437.3 L785.4 436.6 L787.2 435.9 L789.0 435.2 L790.8 434.5 L792.7 433.8 L794.5 433.1 L796.3 432.5 L798.2 431.8 L800.0 431.2 L801.9 430.5 L803.8 429.9 L805.6 429.4 L807.5 428.8 L809.4 428.2 L811.2 427.6 L813.1 427.1 L815.0 426.5"/>
<path stroke="#0000aa" d="M85.3 66.5 L87.1 67.4 L88.8 68.2 L90.6 69.1 L92.3 70.0 L94.1 70.9 L95.8 71.8 L97.5 72.7 L99.3 73.6 L101.0 74.5 L102.7 75.4 L104.5 76.4 L106.2 77.3 L107.9 78.3 L109.6 79.3 L111.3 80.2 L113.0 81.2 L114.6 82.2 L116.3 83.3 L118.0 84.3 L119.6 85.3 L121.3 86.4 L122.9 87.5 L124.5 88.5 L126.2 89.6 L127.8 90.7 L129.4 91.8 L131.0 92.9 L132.6 94.1 L134.2 95.2 L135.7 96.4 L137.3 97.5 L138.8 98.7 L140.4 99.9 L141.9 101.1 L143.5 102.3 L145.0 103.6 L146.5 104.8 L148.0 106.1 L149.5 107.3 L150.9 108.6 L152.4 109.9 L153.9 111.2 L155.3 112.5 L156.8 113.8 L158.2 115.1 L159.6 116.5 L161.0 117.8 L162.5 119.2 L163.9 120.5 L165.3 121.9 L166.6 123.3 L168.0 124.7 L169.4 126.1 L170.8 127.5 L172.1 128.9 L173.5 130.3 L174.8 131.7 L176.1 133.1 L177.5 134.6 L178.8 136.0 L180.1 137.5 L181.4 138.9 L182.7 140.4 L184.0 141.9 L185.2 143.4 L186.5 144.8 L187.8 146.3 L189.0 147.8 L190.3 149.3 L191.5 150.9 L192.7 152.4 L194.0 153.9 L195.2 155.4 L196.4 157.0 L197.6 158.5 L198.8 160.1 L200.0 161.6 L201.2 163.2 L202.3 164.7 L203.5 166.3 L204.6 167.9 L205.8 169.5 L206.9 171.0 L208.1 172.6 L209.2 174.2 L210.3 175.8 L211.5 177.4 L212.6 179.0 L213.7 180.7 L214.8 182.3 L215.9 183.9 L217.0 185.5 L218.0 187.2 L219.1 188.8 L220.2 190.4 L221.3 192.1 L222.3 193.7 L223.4 195.4 L224.4 197.0 L225.5 198.7 L226.5 200.4 L227.5 202.0 L228.5 203.7 L229.6 205.4 L230.6 207.0 L231.6 208.7 L232.6 210.4 L233.6 212.1 L234.6 213.8 L235.5 215.5 L236.5 217.2 L237.5 218.9 L238.5 220.6 L239.4 222.3 L240.4 224.0 L241.3 225.7 L242.3 227.4 L243.2 229.2 L244.1 230.9 L245.1 232.6 L246.0 234.3 L246.9 236.1 L247.8 237.8 L248.7 239.6 L249.6 241.3 L250.5 243.0 L251.4 244.8 L252.3 246.5 L253.2 248.3 L254.1 250.0 L254.9 251.8 L255.8 253.6 L256.7 255.3 L257.5 257.1 L258.4 258.9 L259.2 260.6 L260.1 262.4 L260.9 264.2 L261.7 265.9 L262.5 267.7 L263.4 269.5 L264.2 271.3 L265.0 273.1 L265.8 274.9 L266.6 276.7 L267.4 278.4 L268.2 280.2 L269.0 282.0 L269.8 283.8 L270.6 285.6 L271.3 287.4 L272.1 289.2 L272.9 291.0 L273.6 292.9 L274.4 294.7 L275.2 296.5 L275.9 298.3 L276.7 300.1 L277.4 301.9 L278.1 303.7 L278.9 305.5 L279.6 307.4 L280.3 309.2 L281.1 311.0 L281.8 312.8 L282.5 314.7 L283.2 316.5 L283.9 318.3 L284.6 320.2 L285.3 322.0 L286.0 323.8 L286.7 325.7 L287.4 327.5 L288.1 329.3 L288.8 331.2 L289.5 333.0 L290.1 334.9 L290.8 336.7 L291.5 338.5 L292.1 340.4 L292.8 342.2 L293.5 344.1 L294.1 345.9 L294.8 347.8 L295.4 349.6 L296.1 351.5 L296.7 353.3 L297.3 355.2 L298.0 357.0 L298.6 358.9 L299.2 360.8 L299.9 362.6 L300.5 364.5 L301.1 366.3 L301.7 368.2 L302.3 370.1 L302.9 371.9 L303.5 373.8 L304.1 375.7 L304.7 377.5 L305.3 379.4 L305.9 381.3 L306.5 383.1 L307.1 385.0 L307.7 386.9 L308.3 388.7 L308.8 390.6 L309.4 392.5 L310.0 394.4 L310.6 396.2 L311.1 398.1 L311.7 400.0 L312.2 401.9 L312.8 403.7 L313.3 405.6 L313.9 407.5 L314.4 409.4 L315.0 411.3 L315.5 413.2 L316.0 415.0 L316.6 416.9 L317.1 418.8 L317.6 420.7 L318.1 422.6 L318.6 424.5 L319.1 426.4 L319.7 428.3 L320.2 430.2 L320.7 432.1 L321.2 433.9 L321.7 435.8 L322.2 437.7 L322.7 439.6 L323.2 441.5 L323.7 443.4 L324.2 445.3 L324.8 447.2 L325.3 449.1 L325.8 451.0 L326.3 452.8 L326.9 454.7 L327.4 456.6 L328.0 458.5 L328.5 460.4 L329.1 462.3 L329.6 464.1 L330.2 466.0 L330.8 467.9 L331.4 469.8 L332.0 471.6 L332.5 473.5 L333.2 475.3 L333.8 477.2 L334.4 479.1 L335.0 480.9 L335.7 482.8 L336.3 484.6 L337.0 486.5 L337.6 488.3 L338.3 490.2 L338.9 492.0 L339.6 493.8 L340.3 495.7 L341.0 497.5 L341.7 499.4 L342.4 501.2 L343.2 503.0 L344.0 504.9 L344.9 506.7 L345.8 508.4 L346.8 510.1 L348.0 511.7 L349.3 513.2 L350.7 514.4 L352.3 515.5 L354.0 516.2 L355.8 516.7 L357.7 516.9 L359.6 516.9 L361.6 516.7 L363.6 516.4 L365.5 516.0 L367.5 515.6 L369.4 515.2 L371.3 514.8 L373.3 514.5 L375.2 514.2 L377.2 513.9 L379.1 513.7 L381.1 513.5 L383.0 513.3 L385.0 513.3 L386.9 513.2 L388.9 513.2 L390.8 513.2 L392.8 513.3 L394.7 513.4 L396.7 513.6 L398.7 513.8 L400.6 514.0 L402.6 514.1 L404.5 514.3 L406.5 514.5 L408.4 514.6 L410.4 514.6 L412.3 514.6 L414.3 514.6 L416.2 514.5 L418.2 514.3 L420.1 514.1 L422.1 513.9 L424.0 513.7 L426.0 513.5 L427.9 513.3 L429.9 513.0 L431.8 512.8 L433.8 512.7 L435.8 512.5 L437.7 512.3 L439.7 512.2 L441.6 512.1 L443.6 512.1 L445.5 512.0 L447.5 512.0 L449.4 512.1 L451.4 512.2 L453.3 512.3 L455.3 512.4 L457.3 512.5 L459.2 512.7 L461.2 512.8 L463.1 512.9 L465.1 513.0 L467.0 513.1 L469.0 513.1 L471.0 513.1 L472.9 513.1 L474.9 513.1 L476.8 513.0 L478.8 513.0 L480.8 512.9 L482.7 512.7 L484.7 512.6 L486.6 512.4 L488.6 512.2 L490.5 512.0 L492.5 511.8 L494.4 511.6 L496.4 511.4 L498.3 511.2 L500.3 511.0 L502.2 510.7 L504.1 510.5 L506.1 510.3 L508.0 510.0 L510.0 509.8 L511.9 509.6 L513.9 509.4 L515.8 509.1 L517.8 508.9 L519.7 508.7 L521.7 508.6 L523.6 508.4 L525.6 508.3 L527.5 508.1 L529.5 508.0 L531.5 508.0 L533.4 508.0 L535.4 508.0 L537.3 508.0 L539.3 508.1 L541.2 508.3 L543.2 508.5 L545.1 508.8 L547.1 509.1 L549.0 509.4 L550.9 509.7 L552.9 510.1 L554.8 510.4 L556.7 510.6 L558.7 510.9 L560.6 511.0 L562.6 511.1 L564.6 511.1 L566.5 511.0 L568.4 510.8 L570.4 510.5 L572.3 510.1 L574.2 509.6 L576.0 509.0 L577.9 508.4 L579.8 507.8 L581.6 507.1 L583.5 506.5 L585.3 505.8 L587.2 505.2 L589.1 504.7 L590.9 504.1 L592.8 503.6 L594.7 503.2 L596.7 502.7 L598.6 502.4 L600.5 502.1 L602.5 501.8 L604.4 501.6 L606.4 501.5 L608.3 501.4 L610.3 501.4 L612.2 501.4 L614.2 501.5 L616.2 501.6 L618.1 501.7 L620.1 501.7 L622.0 501.8 L624.0 501.8 L626.0 501.7 L627.9 501.6 L629.9 501.4 L631.8 501.2 L633.7 500.9 L635.7 500.4 L637.5 499.9 L639.4 499.4 L641.3 498.7 L643.1 498.0 L644.9 497.3 L646.7 496.5 L648.5 495.7 L650.3 494.9 L652.1 494.1 L653.9 493.3 L655.7 492.5 L657.4 491.7 L659.2 490.8 L661.0 490.0 L662.8 489.2 L664.6 488.4 L666.4 487.6 L668.1 486.8 L669.9 486.0 L671.7 485.2 L673.5 484.5 L675.4 483.7 L677.2 483.0 L679.0 482.3 L680.8 481.6 L682.7 481.0 L684.6 480.4 L686.4 479.8 L688.3 479.3 L690.2 478.7 L692.1 478.2 L694.0 477.8 L695.9 477.3 L697.8 476.9 L699.7 476.4 L701.6 475.9 L703.5 475.3 L705.4 474.8 L707.2 474.1 L709.0 473.4 L710.9 472.7 L712.7 471.9 L714.5 471.2 L716.2 470.3 L718.0 469.5 L719.8 468.7 L721.5 467.8 L723.3 466.9 L725.0 466.0 L726.8 465.1 L728.5 464.2 L730.2 463.3 L732.0 462.4 L733.7 461.4 L735.4 460.5 L737.2 459.6 L738.9 458.7 L740.7 457.8 L742.4 457.0 L744.2 456.2 L746.0 455.4 L747.8 454.6 L749.6 453.9 L751.4 453.2 L753.3 452.5 L755.1 451.8 L756.9 451.1 L758.8 450.5 L760.7 449.9 L762.5 449.3 L764.4 448.7 L766.3 448.1 L768.2 447.6 L770.0 447.0 L771.9 446.4 L773.8 445.8 L775.6 445.2 L777.5 444.6 L779.3 443.9 L781.1 443.1 L782.9 442.4 L784.7 441.6 L786.5 440.7 L788.2 439.9 L790.0 439.1 L791.8 438.3 L793.6 437.4 L795.4 436.6 L797.2 435.8 L799.0 435.0 L800.7 434.2 L802.5 433.4 L804.3 432.6 L806.1 431.7 L807.8 430.9 L809.6 430.0 L811.3 429.2 L813.1 428.3 L814.9 427.4"/>
<path stroke="#00aaaa" d="M85.3 75.8 L87.0 76.8 L88.6 77.9 L90.3 78.9 L92.0 79.9 L93.6 81.0 L95.3 82.0 L97.0 83.1 L98.6 84.1 L100.3 85.2 L101.9 86.3 L103.5 87.4 L105.2 88.4 L106.8 89.5 L108.4 90.7 L110.0 91.8 L111.6 92.9 L113.2 94.0 L114.8 95.2 L116.4 96.4 L117.9 97.5 L119.5 98.7 L121.0 99.9 L122.6 101.1 L124.1 102.3 L125.7 103.5 L127.2 104.7 L128.7 106.0 L130.2 107.2 L131.7 108.5 L133.2 109.7 L134.7 111.0 L136.2 112.3 L137.6 113.6 L139.1 114.9 L140.5 116.2 L142.0 117.5 L143.4 118.8 L144.8 120.2 L146.2 121.5 L147.6 122.9 L149.0 124.3 L150.4 125.6 L151.8 127.0 L153.1 128.4 L154.5 129.8 L155.8 131.2 L157.2 132.6 L158.5 134.1 L159.8 135.5 L161.1 136.9 L162.5 138.4 L163.8 139.9 L165.0 141.3 L166.3 142.8 L167.6 144.3 L168.9 145.7 L170.1 147.2 L171.4 148.7 L172.6 150.2 L173.8 151.8 L175.1 153.3 L176.3 154.8 L177.5 156.3 L178.7 157.9 L179.9 159.4 L181.1 161.0 L182.3 162.5 L183.4 164.1 L184.6 165.7 L185.8 167.3 L186.9 168.8 L188.0 170.4 L189.2 172.0 L190.3 173.6 L191.4 175.2 L192.6 176.8 L193.7 178.4 L194.8 180.1 L195.9 181.7 L197.0 183.3 L198.0 185.0 L199.1 186.6 L200.2 188.2 L201.3 189.9 L202.3 191.5 L203.4 193.2 L204.4 194.8 L205.5 196.5 L206.5 198.2 L207.5 199.8 L208.5 201.5 L209.6 203.2 L210.6 204.9 L211.6 206.6 L212.6 208.3 L213.6 209.9 L214.6 211.6 L215.5 213.3 L216.5 215.0 L217.5 216.8 L218.5 218.5 L219.4 220.2 L220.4 221.9 L221.3 223.6 L222.3 225.3 L223.2 227.1 L224.2 228.8 L225.1 230.5 L226.0 232.3 L227.0 234.0 L227.9 235.7 L228.8 237.5 L229.7 239.2 L230.6 241.0 L231.5 242.7 L232.4 244.5 L233.3 246.2 L234.2 248.0 L235.0 249.7 L235.9 251.5 L236.8 253.3 L237.6 255.0 L238.5 256.8 L239.4 258.6 L240.2 260.3 L241.1 262.1 L241.9 263.9 L242.7 265.7 L243.6 267.5 L244.4 269.2 L245.2 271.0 L246.0 272.8 L246.9 274.6 L247.7 276.4 L248.5 278.2 L249.3 280.0 L250.1 281.8 L250.9 283.6 L251.7 285.4 L252.5 287.2 L253.2 289.0 L254.0 290.8 L254.8 292.6 L255.6 294.4 L256.3 296.2 L257.1 298.0 L257.8 299.9 L258.6 301.7 L259.3 303.5 L260.1 305.3 L260.8 307.1 L261.6 308.9 L262.3 310.8 L263.0 312.6 L263.8 314.4 L264.5 316.3 L265.2 318.1 L265.9 319.9 L266.6 321.7 L267.3 323.6 L268.0 325.4 L268.7 327.3 L269.4 329.1 L270.1 330.9 L270.8 332.8 L271.5 334.6 L272.2 336.5 L272.9 338.3 L273.5 340.1 L274.2 342.0 L274.9 343.8 L275.5 345.7 L276.2 347.5 L276.8 349.4 L277.5 351.2 L278.1 353.1 L278.8 355.0 L279.4 356.8 L280.1 358.7 L280.7 360.5 L281.3 362.4 L281.9 364.2 L282.6 366.1 L283.2 368.0 L283.8 369.8 L284.4 371.7 L285.0 373.6 L285.6 375.4 L286.2 377.3 L286.8 379.2 L287.4 381.1 L288.0 382.9 L288.6 384.8 L289.1 386.7 L289.7 388.6 L290.3 390.4 L290.8 392.3 L291.4 394.2 L291.9 396.1 L292.5 398.0 L293.0 399.8 L293.6 401.7 L294.1 403.6 L294.6 405.5 L295.2 407.4 L295.7 409.3 L296.2 411.2 L296.8 413.1 L297.3 414.9 L297.8 416.8 L298.4 418.7 L298.9 420.6 L299.5 422.5 L300.0 424.4 L300.6 426.2 L301.2 428.1 L301.7 430.0 L302.3 431.9 L302.9 433.8 L303.4 435.6 L304.0 437.5 L304.5 439.4 L305.1 441.3 L305.6 443.2 L306.1 445.1 L306.6 447.0 L307.2 448.8 L307.7 450.7 L308.2 452.6 L308.7 454.5 L309.2 456.4 L309.7 458.3 L310.2 460.2 L310.8 462.1 L311.3 464.0 L311.8 465.9 L312.3 467.8 L312.9 469.7 L313.4 471.5 L314.0 473.4 L314.5 475.3 L315.1 477.2 L315.7 479.1 L316.3 480.9 L316.9 482.8 L317.5 484.6 L318.2 486.5 L318.8 488.3 L319.5 490.2 L320.2 492.0 L320.9 493.9 L321.6 495.7 L322.3 497.5 L323.0 499.3 L323.8 501.2 L324.5 503.0 L325.3 504.8 L326.0 506.7 L326.9 508.5 L327.7 510.3 L328.7 512.0 L329.7 513.7 L330.8 515.3 L332.1 516.8 L333.5 518.1 L335.1 519.1 L336.8 519.8 L338.6 520.1 L340.5 520.2 L342.5 520.1 L344.5 519.9 L346.4 519.7 L348.4 519.4 L350.4 519.2 L352.3 519.0 L354.3 518.7 L356.3 518.6 L358.2 518.4 L360.2 518.3 L362.2 518.3 L364.1 518.3 L366.1 518.3 L368.0 518.4 L370.0 518.5 L371.9 518.7 L373.9 518.8 L375.9 519.0 L377.8 519.2 L379.8 519.4 L381.7 519.6 L383.7 519.7 L385.6 519.9 L387.6 520.1 L389.5 520.2 L391.5 520.3 L393.5 520.4 L395.4 520.5 L397.4 520.5 L399.3 520.5 L401.3 520.5 L403.3 520.4 L405.2 520.4 L407.2 520.3 L409.1 520.2 L411.1 520.0 L413.1 519.9 L415.0 519.7 L417.0 519.6 L418.9 519.5 L420.9 519.3 L422.9 519.2 L424.8 519.1 L426.8 519.1 L428.7 519.0 L430.7 519.0 L432.6 519.1 L434.6 519.2 L436.6 519.3 L438.5 519.4 L440.5 519.5 L442.4 519.6 L444.4 519.8 L446.4 519.9 L448.3 520.0 L450.3 520.1 L452.2 520.3 L454.2 520.3 L456.2 520.4 L458.1 520.5 L460.1 520.5 L462.0 520.5 L464.0 520.5 L466.0 520.4 L467.9 520.4 L469.9 520.3 L471.8 520.2 L473.8 520.1 L475.8 519.9 L477.7 519.8 L479.7 519.6 L481.6 519.5 L483.6 519.3 L485.5 519.1 L487.5 518.9 L489.4 518.7 L491.4 518.5 L493.3 518.3 L495.3 518.2 L497.3 518.0 L499.2 517.8 L501.2 517.6 L503.1 517.5 L505.1 517.3 L507.0 517.2 L509.0 517.1 L511.0 517.0 L512.9 516.9 L514.9 516.9 L516.8 516.9 L518.8 517.0 L520.8 517.1 L522.7 517.2 L524.7 517.3 L526.6 517.5 L528.6 517.7 L530.5 517.9 L532.5 518.1 L534.4 518.3 L536.4 518.5 L538.4 518.7 L540.3 518.8 L542.3 519.0 L544.2 519.0 L546.2 519.1 L548.2 519.1 L550.1 519.0 L552.1 518.8 L554.0 518.6 L556.0 518.3 L557.9 518.0 L559.8 517.6 L561.7 517.1 L563.6 516.6 L565.5 516.0 L567.3 515.4 L569.2 514.8 L571.1 514.2 L573.0 513.6 L574.8 513.0 L576.7 512.5 L578.6 512.0 L580.5 511.5 L582.5 511.2 L584.4 510.9 L586.3 510.6 L588.3 510.4 L590.2 510.3 L592.2 510.2 L594.2 510.2 L596.1 510.2 L598.1 510.3 L600.1 510.4 L602.0 510.4 L604.0 510.5 L606.0 510.5 L607.9 510.5 L609.9 510.4 L611.8 510.3 L613.8 510.2 L615.7 509.9 L617.7 509.6 L619.6 509.2 L621.5 508.8 L623.4 508.2 L625.2 507.6 L627.1 506.9 L628.9 506.2 L630.7 505.4 L632.5 504.6 L634.3 503.8 L636.1 503.0 L637.8 502.1 L639.6 501.3 L641.4 500.5 L643.2 499.8 L645.0 499.0 L646.9 498.3 L648.7 497.6 L650.6 497.0 L652.4 496.4 L654.3 495.8 L656.2 495.2 L658.1 494.7 L659.9 494.1 L661.8 493.5 L663.7 493.0 L665.6 492.4 L667.5 491.9 L669.3 491.3 L671.2 490.7 L673.1 490.1 L675.0 489.5 L676.8 488.9 L678.7 488.3 L680.5 487.6 L682.4 486.9 L684.2 486.3 L686.0 485.5 L687.8 484.8 L689.7 484.0 L691.5 483.3 L693.2 482.4 L695.0 481.6 L696.8 480.7 L698.5 479.9 L700.3 479.0 L702.0 478.1 L703.8 477.2 L705.6 476.4 L707.3 475.6 L709.1 474.8 L710.9 474.0 L712.7 473.2 L714.5 472.4 L716.3 471.6 L718.1 470.8 L719.9 470.0 L721.7 469.1 L723.4 468.3 L725.2 467.5 L727.0 466.7 L728.8 465.9 L730.6 465.1 L732.4 464.4 L734.2 463.6 L736.0 462.8 L737.8 462.1 L739.7 461.3 L741.5 460.6 L743.3 459.9 L745.1 459.1 L746.9 458.4 L748.8 457.7 L750.6 457.0 L752.4 456.3 L754.3 455.7 L756.1 455.0 L758.0 454.4 L759.8 453.7 L761.7 453.0 L763.4 452.2 L765.2 451.3 L766.9 450.4 L768.7 449.5 L770.4 448.5 L772.1 447.5 L773.8 446.6 L775.5 445.7 L777.3 444.8 L779.1 444.0 L780.8 443.2 L782.6 442.4 L784.4 441.6 L786.2 440.8 L788.0 440.0 L789.8 439.2 L791.6 438.5 L793.4 437.7 L795.2 436.9 L797.0 436.1 L798.8 435.4 L800.6 434.6 L802.4 433.7 L804.2 432.9 L806.0 432.1 L807.8 431.3 L809.5 430.5 L811.3 429.6 L813.1 428.8 L814.9 428.0"/>
<path stroke="#000000" d="M85.3 85.0 L86.9 86.1 L88.5 87.3 L90.1 88.5 L91.7 89.6 L93.3 90.8 L94.8 91.9 L96.4 93.1 L98.0 94.3 L99.6 95.5 L101.1 96.6 L102.7 97.8 L104.3 99.0 L105.8 100.2 L107.3 101.4 L108.9 102.7 L110.4 103.9 L111.9 105.1 L113.4 106.4 L114.9 107.6 L116.4 108.9 L117.9 110.2 L119.4 111.4 L120.9 112.7 L122.4 114.0 L123.8 115.3 L125.3 116.6 L126.7 118.0 L128.2 119.3 L129.6 120.6 L131.0 122.0 L132.4 123.3 L133.8 124.7 L135.2 126.1 L136.6 127.4 L138.0 128.8 L139.4 130.2 L140.7 131.6 L142.1 133.0 L143.4 134.5 L144.8 135.9 L146.1 137.3 L147.4 138.8 L148.7 140.2 L150.0 141.7 L151.3 143.2 L152.6 144.6 L153.8 146.1 L155.1 147.6 L156.3 149.1 L157.6 150.6 L158.8 152.2 L160.0 153.7 L161.2 155.2 L162.4 156.8 L163.6 158.3 L164.8 159.8 L166.0 161.4 L167.2 163.0 L168.4 164.5 L169.5 166.1 L170.7 167.7 L171.8 169.3 L172.9 170.9 L174.1 172.5 L175.2 174.1 L176.3 175.7 L177.4 177.3 L178.5 178.9 L179.6 180.6 L180.7 182.2 L181.8 183.8 L182.8 185.5 L183.9 187.1 L185.0 188.8 L186.0 190.4 L187.1 192.1 L188.1 193.7 L189.2 195.4 L190.2 197.1 L191.2 198.8 L192.2 200.4 L193.3 202.1 L194.3 203.8 L195.3 205.5 L196.3 207.2 L197.3 208.9 L198.3 210.6 L199.3 212.3 L200.2 214.0 L201.2 215.7 L202.2 217.4 L203.2 219.1 L204.1 220.8 L205.1 222.6 L206.0 224.3 L207.0 226.0 L207.9 227.7 L208.9 229.5 L209.8 231.2 L210.7 232.9 L211.6 234.7 L212.6 236.4 L213.5 238.2 L214.4 239.9 L215.3 241.7 L216.2 243.4 L217.1 245.2 L218.0 246.9 L218.9 248.7 L219.8 250.4 L220.7 252.2 L221.5 254.0 L222.4 255.7 L223.3 257.5 L224.2 259.3 L225.0 261.0 L225.9 262.8 L226.7 264.6 L227.6 266.4 L228.4 268.1 L229.3 269.9 L230.1 271.7 L230.9 273.5 L231.8 275.3 L232.6 277.1 L233.4 278.8 L234.2 280.6 L235.0 282.4 L235.9 284.2 L236.7 286.0 L237.5 287.8 L238.3 289.6 L239.1 291.4 L239.8 293.2 L240.6 295.0 L241.4 296.8 L242.2 298.7 L243.0 300.5 L243.7 302.3 L244.5 304.1 L245.2 305.9 L246.0 307.7 L246.8 309.5 L247.5 311.4 L248.2 313.2 L249.0 315.0 L249.7 316.8 L250.5 318.7 L251.2 320.5 L251.9 322.3 L252.6 324.1 L253.3 326.0 L254.1 327.8 L254.8 329.6 L255.5 331.5 L256.2 333.3 L256.9 335.2 L257.6 337.0 L258.2 338.8 L258.9 340.7 L259.6 342.5 L260.3 344.4 L261.0 346.2 L261.6 348.1 L262.3 349.9 L263.0 351.8 L263.6 353.6 L264.3 355.5 L264.9 357.3 L265.6 359.2 L266.2 361.0 L266.8 362.9 L267.5 364.8 L268.1 366.6 L268.7 368.5 L269.3 370.4 L269.9 372.2 L270.5 374.1 L271.1 376.0 L271.7 377.8 L272.3 379.7 L272.9 381.6 L273.5 383.4 L274.1 385.3 L274.6 387.2 L275.2 389.1 L275.8 391.0 L276.3 392.8 L276.9 394.7 L277.4 396.6 L277.9 398.5 L278.5 400.4 L279.0 402.3 L279.5 404.2 L280.0 406.1 L280.5 408.0 L281.0 409.9 L281.6 411.8 L282.1 413.7 L282.6 415.6 L283.1 417.5 L283.6 419.4 L284.1 421.3 L284.6 423.2 L285.1 425.0 L285.7 426.9 L286.2 428.8 L286.7 430.7 L287.2 432.6 L287.8 434.5 L288.3 436.4 L288.8 438.3 L289.3 440.2 L289.9 442.1 L290.4 444.0 L290.9 445.9 L291.4 447.8 L292.0 449.6 L292.5 451.5 L293.0 453.4 L293.5 455.3 L294.1 457.2 L294.6 459.1 L295.1 461.0 L295.7 462.9 L296.2 464.8 L296.8 466.7 L297.3 468.5 L297.9 470.4 L298.5 472.3 L299.0 474.2 L299.6 476.0 L300.2 477.9 L300.8 479.8 L301.4 481.7 L302.1 483.5 L302.7 485.4 L303.3 487.2 L304.0 489.1 L304.7 490.9 L305.4 492.8 L306.1 494.6 L306.8 496.4 L307.5 498.2 L308.3 500.1 L309.0 501.9 L309.7 503.7 L310.4 505.6 L311.2 507.4 L311.9 509.3 L312.7 511.1 L313.5 512.9 L314.5 514.6 L315.5 516.4 L316.6 518.0 L317.9 519.5 L319.3 520.7 L320.9 521.8 L322.6 522.5 L324.4 523.0 L326.3 523.2 L328.3 523.2 L330.2 523.0 L332.2 522.7 L334.2 522.5 L336.2 522.2 L338.1 521.9 L340.1 521.7 L342.1 521.5 L344.0 521.4 L346.0 521.4 L347.9 521.5 L349.9 521.6 L351.8 521.8 L353.8 522.1 L355.7 522.4 L357.7 522.7 L359.6 523.0 L361.6 523.3 L363.5 523.6 L365.4 523.9 L367.4 524.2 L369.3 524.5 L371.3 524.8 L373.2 525.0 L375.2 525.3 L377.1 525.5 L379.1 525.7 L381.0 525.8 L383.0 525.8 L384.9 525.8 L386.9 525.7 L388.9 525.6 L390.8 525.4 L392.8 525.3 L394.7 525.2 L396.7 525.1 L398.7 525.0 L400.6 524.9 L402.6 524.9 L404.6 524.9 L406.5 524.8 L408.5 524.9 L410.4 524.9 L412.4 525.0 L414.4 525.1 L416.3 525.2 L418.3 525.4 L420.2 525.5 L422.2 525.7 L424.2 525.9 L426.1 526.1 L428.1 526.3 L430.0 526.5 L432.0 526.6 L433.9 526.8 L435.9 527.0 L437.9 527.1 L439.8 527.2 L441.8 527.3 L443.7 527.4 L445.7 527.5 L447.7 527.5 L449.6 527.5 L451.6 527.5 L453.6 527.4 L455.5 527.3 L457.5 527.2 L459.4 527.1 L461.4 527.0 L463.4 526.8 L465.3 526.6 L467.3 526.5 L469.2 526.3 L471.2 526.1 L473.1 525.9 L475.1 525.7 L477.0 525.5 L479.0 525.3 L481.0 525.1 L482.9 524.9 L484.9 524.8 L486.8 524.6 L488.8 524.5 L490.8 524.4 L492.7 524.3 L494.7 524.2 L496.6 524.2 L498.6 524.2 L500.6 524.3 L502.5 524.3 L504.5 524.4 L506.4 524.6 L508.4 524.7 L510.4 524.9 L512.3 525.0 L514.3 525.2 L516.2 525.4 L518.2 525.6 L520.2 525.8 L522.1 526.0 L524.1 526.2 L526.0 526.3 L528.0 526.4 L530.0 526.5 L531.9 526.6 L533.9 526.6 L535.8 526.5 L537.8 526.4 L539.8 526.3 L541.7 526.1 L543.7 525.8 L545.6 525.5 L547.5 525.1 L549.4 524.7 L551.3 524.2 L553.2 523.6 L555.1 523.1 L557.0 522.5 L558.9 521.9 L560.8 521.3 L562.6 520.8 L564.5 520.2 L566.4 519.7 L568.3 519.3 L570.3 518.8 L572.2 518.4 L574.1 518.1 L576.1 517.9 L578.0 517.7 L580.0 517.6 L581.9 517.6 L583.9 517.6 L585.8 517.7 L587.8 517.8 L589.8 518.0 L591.7 518.1 L593.7 518.2 L595.7 518.2 L597.6 518.2 L599.6 518.1 L601.6 518.0 L603.5 517.7 L605.5 517.4 L607.4 517.0 L609.3 516.5 L611.2 516.0 L613.0 515.3 L614.8 514.6 L616.6 513.8 L618.4 513.0 L620.2 512.2 L622.0 511.3 L623.7 510.4 L625.5 509.5 L627.2 508.6 L629.0 507.7 L630.7 506.8 L632.5 505.9 L634.3 505.1 L636.1 504.3 L637.9 503.6 L639.7 502.8 L641.6 502.2 L643.4 501.5 L645.3 500.9 L647.1 500.3 L649.0 499.7 L650.9 499.2 L652.8 498.7 L654.7 498.2 L656.6 497.7 L658.5 497.2 L660.4 496.7 L662.3 496.3 L664.2 495.8 L666.1 495.3 L668.0 494.8 L669.9 494.3 L671.8 493.8 L673.7 493.3 L675.6 492.8 L677.5 492.3 L679.4 491.7 L681.2 491.0 L683.1 490.3 L684.9 489.5 L686.7 488.8 L688.5 487.9 L690.2 487.1 L692.0 486.2 L693.7 485.3 L695.5 484.3 L697.2 483.4 L698.9 482.4 L700.6 481.5 L702.3 480.5 L704.0 479.5 L705.7 478.5 L707.4 477.5 L709.1 476.5 L710.8 475.6 L712.5 474.6 L714.2 473.6 L715.9 472.7 L717.7 471.8 L719.4 470.9 L721.2 470.0 L723.0 469.1 L724.7 468.3 L726.5 467.5 L728.3 466.8 L730.2 466.0 L732.0 465.4 L733.9 464.7 L735.7 464.1 L737.6 463.4 L739.4 462.8 L741.3 462.2 L743.2 461.6 L745.0 460.9 L746.9 460.3 L748.7 459.6 L750.6 459.0 L752.5 458.4 L754.3 457.8 L756.2 457.2 L758.1 456.6 L759.9 456.0 L761.8 455.3 L763.6 454.7 L765.5 454.0 L767.3 453.2 L769.1 452.5 L770.9 451.7 L772.7 450.8 L774.4 449.9 L776.2 449.1 L777.9 448.2 L779.7 447.3 L781.4 446.3 L783.1 445.4 L784.9 444.5 L786.6 443.6 L788.4 442.7 L790.1 441.8 L791.9 440.9 L793.6 440.1 L795.4 439.2 L797.2 438.4 L798.9 437.5 L800.7 436.7 L802.5 435.8 L804.3 435.0 L806.0 434.1 L807.8 433.3 L809.6 432.4 L811.3 431.6 L813.1 430.7 L814.9 429.8"/>
</g>
<g stroke="#000" fill="none">
<line x1="85.0" y1="3.2" x2="85.0" y2="571.9" stroke-width="2.6"/>
<line x1="70" y1="560.0" x2="827.6" y2="560.0" stroke-width="2.6"/>
<path stroke-width="2.3" d="M85.0 26.8H92.6 M85.0 103.0H92.6 M85.0 179.2H92.6 M85.0 255.4H92.6 M85.0 331.6H92.6 M85.0 407.8H92.6 M85.0 484.0H92.6"/>
<path stroke-width="2" d="M85.0 80.1H88.8 M85.0 66.6H88.8 M85.0 57.1H88.8 M85.0 49.7H88.8 M85.0 43.7H88.8 M85.0 38.6H88.8 M85.0 34.2H88.8 M85.0 30.3H88.8 M85.0 156.3H88.8 M85.0 142.8H88.8 M85.0 133.3H88.8 M85.0 125.9H88.8 M85.0 119.9H88.8 M85.0 114.8H88.8 M85.0 110.4H88.8 M85.0 106.5H88.8 M85.0 232.5H88.8 M85.0 219.0H88.8 M85.0 209.5H88.8 M85.0 202.1H88.8 M85.0 196.1H88.8 M85.0 191.0H88.8 M85.0 186.6H88.8 M85.0 182.7H88.8 M85.0 308.7H88.8 M85.0 295.2H88.8 M85.0 285.7H88.8 M85.0 278.3H88.8 M85.0 272.3H88.8 M85.0 267.2H88.8 M85.0 262.8H88.8 M85.0 258.9H88.8 M85.0 384.9H88.8 M85.0 371.4H88.8 M85.0 361.9H88.8 M85.0 354.5H88.8 M85.0 348.5H88.8 M85.0 343.4H88.8 M85.0 339.0H88.8 M85.0 335.1H88.8 M85.0 461.1H88.8 M85.0 447.6H88.8 M85.0 438.1H88.8 M85.0 430.7H88.8 M85.0 424.7H88.8 M85.0 419.6H88.8 M85.0 415.2H88.8 M85.0 411.3H88.8 M85.0 537.3H88.8 M85.0 523.8H88.8 M85.0 514.3H88.8 M85.0 506.9H88.8 M85.0 500.9H88.8 M85.0 495.8H88.8 M85.0 491.4H88.8 M85.0 487.5H88.8"/>
<path stroke-width="2.3" d="M133.4 560.0V552.4 M230.4 560.0V552.4 M327.4 560.0V552.4 M424.4 560.0V552.4 M521.4 560.0V552.4 M618.4 560.0V552.4 M715.4 560.0V552.4 M812.4 560.0V552.4"/>
<path stroke-width="2.3" d="M94.6 560.0V556.2 M114.0 560.0V556.2 M152.8 560.0V556.2 M172.2 560.0V556.2 M191.6 560.0V556.2 M211.0 560.0V556.2 M249.8 560.0V556.2 M269.2 560.0V556.2 M288.6 560.0V556.2 M308.0 560.0V556.2 M346.8 560.0V556.2 M366.2 560.0V556.2 M385.6 560.0V556.2 M405.0 560.0V556.2 M443.8 560.0V556.2 M463.2 560.0V556.2 M482.6 560.0V556.2 M502.0 560.0V556.2 M540.8 560.0V556.2 M560.2 560.0V556.2 M579.6 560.0V556.2 M599.0 560.0V556.2 M637.8 560.0V556.2 M657.2 560.0V556.2 M676.6 560.0V556.2 M696.0 560.0V556.2 M734.8 560.0V556.2 M754.2 560.0V556.2 M773.6 560.0V556.2 M793.0 560.0V556.2"/>
</g>
<text class="tk" x="72.1" y="34.2" text-anchor="end">10</text>
<text class="sp" x="81.5" y="26.0" text-anchor="end">0</text>
<text class="tk" x="63.3" y="110.4" text-anchor="end">10</text>
<text class="sp" x="81.5" y="102.2" text-anchor="end">−1</text>
<text class="tk" x="63.3" y="186.6" text-anchor="end">10</text>
<text class="sp" x="81.5" y="178.4" text-anchor="end">−2</text>
<text class="tk" x="63.3" y="262.8" text-anchor="end">10</text>
<text class="sp" x="81.5" y="254.6" text-anchor="end">−3</text>
<text class="tk" x="63.3" y="339.0" text-anchor="end">10</text>
<text class="sp" x="81.5" y="330.8" text-anchor="end">−4</text>
<text class="tk" x="63.3" y="415.2" text-anchor="end">10</text>
<text class="sp" x="81.5" y="407.0" text-anchor="end">−5</text>
<text class="tk" x="63.3" y="491.4" text-anchor="end">10</text>
<text class="sp" x="81.5" y="483.2" text-anchor="end">−6</text>
<text class="tk" x="133.4" y="583.1" text-anchor="middle">−20</text>
<text class="tk" x="230.4" y="583.1" text-anchor="middle">−10</text>
<text class="tk" x="330.6" y="583.1" text-anchor="middle">0</text>
<text class="tk" x="424.4" y="583.1" text-anchor="middle">10</text>
<text class="tk" x="521.4" y="583.1" text-anchor="middle">20</text>
<text class="tk" x="618.4" y="583.1" text-anchor="middle">30</text>
<text class="tk" x="715.4" y="583.1" text-anchor="middle">40</text>
<text class="tk" x="812.4" y="583.1" text-anchor="middle">50</text>
<line x1="680.3" y1="44.0" x2="757.6" y2="44.0" stroke="#0000ff" stroke-width="2"/>
<text class="lg" y="47.7"><tspan x="769.4" font-style="italic">N</tspan><tspan x="790.3">=</tspan><tspan x="809.1">0</tspan></text>
<line x1="680.3" y1="81.4" x2="757.6" y2="81.4" stroke="#ff0000" stroke-width="2"/>
<text class="lg" y="85.1"><tspan x="769.4" font-style="italic">N</tspan><tspan x="790.3">=</tspan><tspan x="809.1">1</tspan></text>
<line x1="680.3" y1="118.8" x2="757.6" y2="118.8" stroke="#00aa00" stroke-width="2"/>
<text class="lg" y="122.5"><tspan x="769.4" font-style="italic">N</tspan><tspan x="790.3">=</tspan><tspan x="809.1">2</tspan></text>
<line x1="680.3" y1="156.2" x2="757.6" y2="156.2" stroke="#800080" stroke-width="2"/>
<text class="lg" y="159.9"><tspan x="769.4" font-style="italic">N</tspan><tspan x="790.3">=</tspan><tspan x="809.1">3</tspan></text>
<line x1="680.3" y1="193.6" x2="757.6" y2="193.6" stroke="#ff8000" stroke-width="2"/>
<text class="lg" y="197.3"><tspan x="769.4" font-style="italic">N</tspan><tspan x="790.3">=</tspan><tspan x="809.1">4</tspan></text>
<line x1="680.3" y1="231.0" x2="757.6" y2="231.0" stroke="#0000aa" stroke-width="2"/>
<text class="lg" y="234.7"><tspan x="769.4" font-style="italic">N</tspan><tspan x="790.3">=</tspan><tspan x="809.1">5</tspan></text>
<line x1="680.3" y1="268.4" x2="757.6" y2="268.4" stroke="#00aaaa" stroke-width="2"/>
<text class="lg" y="272.1"><tspan x="769.4" font-style="italic">N</tspan><tspan x="790.3">=</tspan><tspan x="809.1">6</tspan></text>
<line x1="680.3" y1="305.8" x2="757.6" y2="305.8" stroke="#000000" stroke-width="2"/>
<text class="lg" y="309.5"><tspan x="769.4" font-style="italic">N</tspan><tspan x="790.3">=</tspan><tspan x="809.1">7</tspan></text>
<g id="xlabel" role="img" aria-label="t_i − t_peak [M]">
<g transform="translate(0.0 0)" fill="none" stroke="#000" stroke-linecap="butt" stroke-linejoin="round"><path stroke-width="1.7" d="M363 598.5H374.9"/><path stroke-width="2" d="M368.9 594.3L365.9 606C365.2 609 366.2 610.4 368.3 610.4C369.9 610.4 371.3 609.9 372.8 609"/></g>
<g fill="none" stroke="#000"><path stroke-width="1.8" d="M379.9 605.3V614.7"/><path stroke-width="1.4" d="M375.2 606H380.8"/></g>
<circle cx="379.6" cy="602.3" r="1.3" fill="#000"/>
<line x1="388.1" y1="604.3" x2="398.4" y2="604.3" stroke="#000" stroke-width="1.1"/>
<g transform="translate(42.9 0)" fill="none" stroke="#000" stroke-linecap="butt" stroke-linejoin="round"><path stroke-width="1.7" d="M363 598.5H374.9"/><path stroke-width="2" d="M368.9 594.3L365.9 606C365.2 609 366.2 610.4 368.3 610.4C369.9 610.4 371.3 609.9 372.8 609"/></g>
<text class="mono" x="417.2" y="614.4" font-size="20.5" style="letter-spacing:-1.5px">peak</text>
<path d="M474 594.4H469.8V615H474" fill="none" stroke="#6a6a6a" stroke-width="1.4"/>
<text class="mono" x="479.7" y="610.7" font-size="26.7" font-style="italic">M</text>
<path d="M499.6 594.4H503.8V615H499.6" fill="none" stroke="#6a6a6a" stroke-width="1.4"/>
</g>
<g id="ylabel" role="img" aria-label="M(h)" fill="none" stroke="#000" stroke-linecap="round" stroke-linejoin="round">
<path stroke-width="1.5" d="M24.6 351.8C22.5 346.5 14 341 4.6 337.4C10 337.8 15.5 335.6 19.4 336L23.3 337.8L4.5 320.1C10 322.6 18 326.3 23.8 324.7"/>
<path stroke-width="1" d="M3.1 285.3Q16 295.6 29.5 285.3"/>
<path stroke-width="1" d="M3.1 252.4Q16 242.2 29.5 252.4"/>
<path stroke-width="2.8" stroke-linecap="butt" d="M23.2 276.3L0 270.1"/>
<path stroke-width="2.8" stroke-linecap="butt" d="M23.2 264.4L13 261.7C8.6 260.6 7.6 266.5 11.2 273"/>
</g>
</svg>
</body></html>
